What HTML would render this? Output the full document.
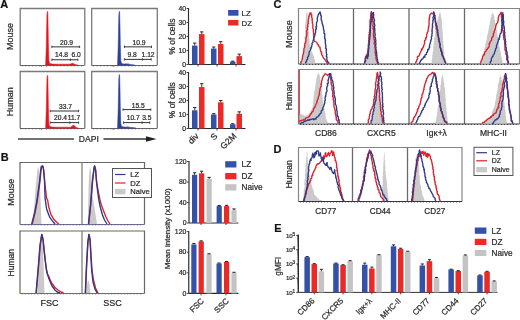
<!DOCTYPE html><html><head><meta charset="utf-8"><title>Figure</title><style>html,body{margin:0;padding:0;background:#fff;overflow:hidden}svg{display:block;font-family:"Liberation Sans",sans-serif;will-change:transform}text{stroke:#2a2a2a;stroke-width:0.22px}</style></head><body>
<svg width="520" height="320" viewBox="0 0 520 320">
<rect width="520" height="320" fill="#fff"/>
<text x="0.3" y="8.2" font-size="11" text-anchor="start" fill="#111" font-weight="bold">A</text>
<text x="0.8" y="160.6" font-size="11" text-anchor="start" fill="#111" font-weight="bold">B</text>
<text x="273.6" y="8.2" font-size="11" text-anchor="start" fill="#111" font-weight="bold">C</text>
<text x="273.6" y="152.6" font-size="11" text-anchor="start" fill="#111" font-weight="bold">D</text>
<text x="274.3" y="232.2" font-size="11" text-anchor="start" fill="#111" font-weight="bold">E</text>
<text x="13.4" y="36.6" font-size="9.0" text-anchor="middle" fill="#2a2a2a" transform="rotate(-90 13.4 36.6)">Mouse</text>
<text x="13.4" y="101.75" font-size="9.0" text-anchor="middle" fill="#2a2a2a" transform="rotate(-90 13.4 101.75)">Human</text>
<path d="M20.2,65.5 V8.5 H84.8 V65.5" fill="none" stroke="#7a7a7a" stroke-width="1.3"/>
<line x1="20" y1="65.5" x2="84.5" y2="65.5" stroke="#555" stroke-width="0.9"/>
<path d="M22.0,65.5 v0.9 M25.5,65.5 v0.9 M29.0,65.5 v0.9 M32.5,65.5 v0.9 M36.0,65.5 v0.9 M39.5,65.5 v0.9 M43.0,65.5 v0.9 M46.5,65.5 v0.9 M50.0,65.5 v0.9 M53.5,65.5 v0.9 M57.0,65.5 v0.9 M60.5,65.5 v0.9 M64.0,65.5 v0.9 M67.5,65.5 v0.9 M71.0,65.5 v0.9 M74.5,65.5 v0.9 M78.0,65.5 v0.9 M81.5,65.5 v0.9" stroke="#555" stroke-width="0.8" fill="none"/>
<line x1="41.285" y1="65.5" x2="41.285" y2="67.1" stroke="#555" stroke-width="0.8"/>
<path d="M45.6,65.5 L46.3,45.5 L46.9,15.5 L47.3,11.5 L47.8,11.5 L48.1,25.5 L48.4,43.5 L48.9,60.5 L49.7,63.5 L52.4,64.0 L57.4,64.2 L69.7,64.2 L72.7,63.2 L75.2,64.4 L78.0,65.1 L78.0,65.5 Z" fill="#e3141c" stroke="none"/>
<path d="M45.6,65.5 L46.3,45.5 L46.9,15.5 L47.3,11.5 L47.8,11.5 L48.1,25.5 L48.4,43.5 L48.9,60.5 L49.7,63.5 L52.4,64.0 L57.4,64.2 L69.7,64.2 L72.7,63.2 L75.2,64.4 L78.0,65.1" fill="none" stroke="#e3141c" stroke-width="0.5" stroke-linejoin="round"/>
<line x1="51.9" y1="46.85" x2="79.6" y2="46.85" stroke="#333" stroke-width="1.0"/>
<line x1="51.9" y1="45.65" x2="51.9" y2="48.050000000000004" stroke="#333" stroke-width="0.9"/>
<line x1="79.6" y1="45.65" x2="79.6" y2="48.050000000000004" stroke="#333" stroke-width="0.9"/>
<text x="66.5" y="45.1" font-size="6.7" text-anchor="middle" fill="#2a2a2a">20.9</text>
<line x1="51.9" y1="59.75" x2="77.8" y2="59.75" stroke="#333" stroke-width="1.0"/>
<line x1="51.9" y1="58.55" x2="51.9" y2="60.95" stroke="#333" stroke-width="0.9"/>
<line x1="77.8" y1="58.55" x2="77.8" y2="60.95" stroke="#333" stroke-width="0.9"/>
<line x1="70.4" y1="58.55" x2="70.4" y2="60.95" stroke="#333" stroke-width="0.9"/>
<text x="61.6" y="56.8" font-size="6.7" text-anchor="middle" fill="#2a2a2a">14.8</text>
<text x="76.2" y="56.8" font-size="6.7" text-anchor="middle" fill="#2a2a2a">6.0</text>
<path d="M91.7,65.5 V8.5 H157.3 V65.5" fill="none" stroke="#7a7a7a" stroke-width="1.3"/>
<line x1="91.5" y1="65.5" x2="157" y2="65.5" stroke="#555" stroke-width="0.9"/>
<path d="M93.5,65.5 v0.9 M97.0,65.5 v0.9 M100.5,65.5 v0.9 M104.0,65.5 v0.9 M107.5,65.5 v0.9 M111.0,65.5 v0.9 M114.5,65.5 v0.9 M118.0,65.5 v0.9 M121.5,65.5 v0.9 M125.0,65.5 v0.9 M128.5,65.5 v0.9 M132.0,65.5 v0.9 M135.5,65.5 v0.9 M139.0,65.5 v0.9 M142.5,65.5 v0.9 M146.0,65.5 v0.9 M149.5,65.5 v0.9 M153.0,65.5 v0.9" stroke="#555" stroke-width="0.8" fill="none"/>
<line x1="113.11500000000001" y1="65.5" x2="113.11500000000001" y2="67.1" stroke="#555" stroke-width="0.8"/>
<path d="M117.5,65.5 L118.2,45.5 L118.8,15.5 L119.2,11.5 L119.6,11.5 L120.0,25.5 L120.3,43.5 L120.8,60.5 L121.6,63.5 L124.3,64.0 L129.3,64.2 L125.0,64.2 L128.0,64.3 L130.5,64.4 L135.0,65.1 L135.0,65.5 Z" fill="#2e3f98" stroke="none"/>
<path d="M117.5,65.5 L118.2,45.5 L118.8,15.5 L119.2,11.5 L119.6,11.5 L120.0,25.5 L120.3,43.5 L120.8,60.5 L121.6,63.5 L124.3,64.0 L129.3,64.2 L125.0,64.2 L128.0,64.3 L130.5,64.4 L135.0,65.1" fill="none" stroke="#2e3f98" stroke-width="0.5" stroke-linejoin="round"/>
<line x1="124.5" y1="46.85" x2="151.5" y2="46.85" stroke="#333" stroke-width="1.0"/>
<line x1="124.5" y1="45.65" x2="124.5" y2="48.050000000000004" stroke="#333" stroke-width="0.9"/>
<line x1="151.5" y1="45.65" x2="151.5" y2="48.050000000000004" stroke="#333" stroke-width="0.9"/>
<text x="139" y="45.1" font-size="6.7" text-anchor="middle" fill="#2a2a2a">10.9</text>
<line x1="124.3" y1="59.4" x2="151.2" y2="59.4" stroke="#333" stroke-width="1.0"/>
<line x1="124.3" y1="58.199999999999996" x2="124.3" y2="60.6" stroke="#333" stroke-width="0.9"/>
<line x1="151.2" y1="58.199999999999996" x2="151.2" y2="60.6" stroke="#333" stroke-width="0.9"/>
<line x1="142.4" y1="58.199999999999996" x2="142.4" y2="60.6" stroke="#333" stroke-width="0.9"/>
<text x="132.1" y="57.4" font-size="6.7" text-anchor="middle" fill="#2a2a2a">9.8</text>
<text x="148.1" y="57.4" font-size="6.7" text-anchor="middle" fill="#2a2a2a">1.12</text>
<path d="M20.2,128.5 V71.5 H84.8 V128.5" fill="none" stroke="#7a7a7a" stroke-width="1.3"/>
<line x1="20" y1="128.5" x2="84.5" y2="128.5" stroke="#555" stroke-width="0.9"/>
<path d="M22.0,128.5 v0.9 M25.5,128.5 v0.9 M29.0,128.5 v0.9 M32.5,128.5 v0.9 M36.0,128.5 v0.9 M39.5,128.5 v0.9 M43.0,128.5 v0.9 M46.5,128.5 v0.9 M50.0,128.5 v0.9 M53.5,128.5 v0.9 M57.0,128.5 v0.9 M60.5,128.5 v0.9 M64.0,128.5 v0.9 M67.5,128.5 v0.9 M71.0,128.5 v0.9 M74.5,128.5 v0.9 M78.0,128.5 v0.9 M81.5,128.5 v0.9" stroke="#555" stroke-width="0.8" fill="none"/>
<line x1="41.285" y1="128.5" x2="41.285" y2="130.1" stroke="#555" stroke-width="0.8"/>
<path d="M45.6,128.5 L46.3,108.5 L46.9,79.5 L47.3,75.5 L47.8,75.5 L48.1,89.5 L48.4,106.5 L48.9,123.5 L49.7,126.5 L52.4,127.0 L57.4,127.2 L70.6,127.2 L73.6,125.0 L76.1,127.4 L78.5,128.1 L78.5,128.5 Z" fill="#e3141c" stroke="none"/>
<path d="M45.6,128.5 L46.3,108.5 L46.9,79.5 L47.3,75.5 L47.8,75.5 L48.1,89.5 L48.4,106.5 L48.9,123.5 L49.7,126.5 L52.4,127.0 L57.4,127.2 L70.6,127.2 L73.6,125.0 L76.1,127.4 L78.5,128.1" fill="none" stroke="#e3141c" stroke-width="0.5" stroke-linejoin="round"/>
<line x1="50.2" y1="111.0" x2="78.6" y2="111.0" stroke="#333" stroke-width="1.0"/>
<line x1="50.2" y1="109.8" x2="50.2" y2="112.2" stroke="#333" stroke-width="0.9"/>
<line x1="78.6" y1="109.8" x2="78.6" y2="112.2" stroke="#333" stroke-width="0.9"/>
<text x="65.5" y="108.6" font-size="6.7" text-anchor="middle" fill="#2a2a2a">33.7</text>
<line x1="50.2" y1="122.6" x2="78.6" y2="122.6" stroke="#333" stroke-width="1.0"/>
<line x1="50.2" y1="121.39999999999999" x2="50.2" y2="123.8" stroke="#333" stroke-width="0.9"/>
<line x1="78.6" y1="121.39999999999999" x2="78.6" y2="123.8" stroke="#333" stroke-width="0.9"/>
<line x1="69.8" y1="121.39999999999999" x2="69.8" y2="123.8" stroke="#333" stroke-width="0.9"/>
<text x="60.6" y="119.9" font-size="6.7" text-anchor="middle" fill="#2a2a2a">20.4</text>
<text x="74.0" y="119.9" font-size="6.7" text-anchor="middle" fill="#2a2a2a">11.7</text>
<path d="M91.7,128.5 V71.5 H157.3 V128.5" fill="none" stroke="#7a7a7a" stroke-width="1.3"/>
<line x1="91.5" y1="128.5" x2="157" y2="128.5" stroke="#555" stroke-width="0.9"/>
<path d="M93.5,128.5 v0.9 M97.0,128.5 v0.9 M100.5,128.5 v0.9 M104.0,128.5 v0.9 M107.5,128.5 v0.9 M111.0,128.5 v0.9 M114.5,128.5 v0.9 M118.0,128.5 v0.9 M121.5,128.5 v0.9 M125.0,128.5 v0.9 M128.5,128.5 v0.9 M132.0,128.5 v0.9 M135.5,128.5 v0.9 M139.0,128.5 v0.9 M142.5,128.5 v0.9 M146.0,128.5 v0.9 M149.5,128.5 v0.9 M153.0,128.5 v0.9" stroke="#555" stroke-width="0.8" fill="none"/>
<line x1="113.11500000000001" y1="128.5" x2="113.11500000000001" y2="130.1" stroke="#555" stroke-width="0.8"/>
<path d="M117.5,128.5 L118.2,108.5 L118.8,78.7 L119.2,74.7 L119.6,74.7 L120.0,88.7 L120.3,106.5 L120.8,123.5 L121.6,126.5 L124.3,127.0 L129.3,127.2 L127.0,127.2 L130.0,127.5 L132.5,127.4 L136.0,128.1 L136.0,128.5 Z" fill="#2e3f98" stroke="none"/>
<path d="M117.5,128.5 L118.2,108.5 L118.8,78.7 L119.2,74.7 L119.6,74.7 L120.0,88.7 L120.3,106.5 L120.8,123.5 L121.6,126.5 L124.3,127.0 L129.3,127.2 L127.0,127.2 L130.0,127.5 L132.5,127.4 L136.0,128.1" fill="none" stroke="#2e3f98" stroke-width="0.5" stroke-linejoin="round"/>
<line x1="123" y1="109.6" x2="150.8" y2="109.6" stroke="#333" stroke-width="1.0"/>
<line x1="123" y1="108.39999999999999" x2="123" y2="110.8" stroke="#333" stroke-width="0.9"/>
<line x1="150.8" y1="108.39999999999999" x2="150.8" y2="110.8" stroke="#333" stroke-width="0.9"/>
<text x="138.2" y="108.0" font-size="6.7" text-anchor="middle" fill="#2a2a2a">15.5</text>
<line x1="123.6" y1="122.6" x2="149.8" y2="122.6" stroke="#333" stroke-width="1.0"/>
<line x1="123.6" y1="121.39999999999999" x2="123.6" y2="123.8" stroke="#333" stroke-width="0.9"/>
<line x1="149.8" y1="121.39999999999999" x2="149.8" y2="123.8" stroke="#333" stroke-width="0.9"/>
<line x1="142.1" y1="121.39999999999999" x2="142.1" y2="123.8" stroke="#333" stroke-width="0.9"/>
<text x="133.2" y="120.4" font-size="6.7" text-anchor="middle" fill="#2a2a2a">10.7</text>
<text x="146.8" y="120.4" font-size="6.7" text-anchor="middle" fill="#2a2a2a">3.5</text>
<line x1="18" y1="139" x2="74" y2="139" stroke="#444" stroke-width="1.4"/>
<text x="78.8" y="142.2" font-size="8.6" text-anchor="start" fill="#2a2a2a">DAPI</text>
<line x1="103.5" y1="139" x2="149" y2="139" stroke="#333" stroke-width="1.4"/>
<path d="M146,136.3 L156.5,139 L146,141.7 Z" fill="#222"/>
<line x1="188.5" y1="8.0" x2="188.5" y2="64.5" stroke="#2a2a2a" stroke-width="1.15"/>
<line x1="188.5" y1="64.5" x2="245.5" y2="64.5" stroke="#2a2a2a" stroke-width="1.15"/>
<line x1="186.5" y1="64.5" x2="188.5" y2="64.5" stroke="#333" stroke-width="0.9"/>
<text x="186.1" y="66.6" font-size="6.9" text-anchor="end" fill="#2a2a2a">0</text>
<line x1="186.5" y1="50.5" x2="188.5" y2="50.5" stroke="#333" stroke-width="0.9"/>
<text x="186.1" y="52.6" font-size="6.9" text-anchor="end" fill="#2a2a2a">10</text>
<line x1="186.5" y1="36.5" x2="188.5" y2="36.5" stroke="#333" stroke-width="0.9"/>
<text x="186.1" y="38.6" font-size="6.9" text-anchor="end" fill="#2a2a2a">20</text>
<line x1="186.5" y1="22.5" x2="188.5" y2="22.5" stroke="#333" stroke-width="0.9"/>
<text x="186.1" y="24.6" font-size="6.9" text-anchor="end" fill="#2a2a2a">30</text>
<line x1="186.5" y1="8.5" x2="188.5" y2="8.5" stroke="#333" stroke-width="0.9"/>
<text x="186.1" y="10.6" font-size="6.9" text-anchor="end" fill="#2a2a2a">40</text>
<line x1="198" y1="64.5" x2="198" y2="66.5" stroke="#333" stroke-width="0.9"/>
<line x1="217" y1="64.5" x2="217" y2="66.5" stroke="#333" stroke-width="0.9"/>
<line x1="236" y1="64.5" x2="236" y2="66.5" stroke="#333" stroke-width="0.9"/>
<rect x="192" y="45.6" width="5.5" height="18.9" fill="#3451a8"/>
<line x1="194.75" y1="45.6" x2="194.75" y2="43.08" stroke="#222" stroke-width="0.9"/>
<line x1="193.15" y1="43.08" x2="196.35" y2="43.08" stroke="#222" stroke-width="1.0"/>
<rect x="199" y="34.120000000000005" width="5.5" height="30.379999999999995" fill="#ec2a25"/>
<line x1="201.75" y1="34.120000000000005" x2="201.75" y2="31.880000000000003" stroke="#222" stroke-width="0.9"/>
<line x1="200.15" y1="31.880000000000003" x2="203.35" y2="31.880000000000003" stroke="#222" stroke-width="1.0"/>
<rect x="211" y="48.54" width="5.5" height="15.96" fill="#3451a8"/>
<line x1="213.75" y1="48.54" x2="213.75" y2="47.0" stroke="#222" stroke-width="0.9"/>
<line x1="212.15" y1="47.0" x2="215.35" y2="47.0" stroke="#222" stroke-width="1.0"/>
<rect x="218" y="44.06" width="5.5" height="20.439999999999998" fill="#ec2a25"/>
<line x1="220.75" y1="44.06" x2="220.75" y2="41.68" stroke="#222" stroke-width="0.9"/>
<line x1="219.15" y1="41.68" x2="222.35" y2="41.68" stroke="#222" stroke-width="1.0"/>
<rect x="230" y="61.7" width="5.5" height="2.799999999999997" fill="#3451a8"/>
<line x1="232.75" y1="61.7" x2="232.75" y2="61.14" stroke="#222" stroke-width="0.9"/>
<line x1="231.15" y1="61.14" x2="234.35" y2="61.14" stroke="#222" stroke-width="1.0"/>
<rect x="236.5" y="56.1" width="5.5" height="8.399999999999999" fill="#ec2a25"/>
<line x1="239.25" y1="56.1" x2="239.25" y2="54.14" stroke="#222" stroke-width="0.9"/>
<line x1="237.65" y1="54.14" x2="240.85" y2="54.14" stroke="#222" stroke-width="1.0"/>
<rect x="228.1" y="10" width="10.4" height="5.7" fill="#3451a8"/>
<rect x="228.1" y="20" width="10.4" height="5.5" fill="#ec2a25"/>
<text x="241.6" y="15.6" font-size="7.8" text-anchor="start" fill="#2a2a2a">LZ</text>
<text x="241.6" y="25.6" font-size="7.8" text-anchor="start" fill="#2a2a2a">DZ</text>
<text x="175.1" y="36.5" font-size="8.4" text-anchor="middle" fill="#2a2a2a" transform="rotate(-90 175.1 36.5)">% of cells</text>
<line x1="188.5" y1="72.0" x2="188.5" y2="128.5" stroke="#2a2a2a" stroke-width="1.15"/>
<line x1="188.5" y1="128.5" x2="245.5" y2="128.5" stroke="#2a2a2a" stroke-width="1.15"/>
<line x1="186.5" y1="128.5" x2="188.5" y2="128.5" stroke="#333" stroke-width="0.9"/>
<text x="186.1" y="130.6" font-size="6.9" text-anchor="end" fill="#2a2a2a">0</text>
<line x1="186.5" y1="114.5" x2="188.5" y2="114.5" stroke="#333" stroke-width="0.9"/>
<text x="186.1" y="116.6" font-size="6.9" text-anchor="end" fill="#2a2a2a">10</text>
<line x1="186.5" y1="100.5" x2="188.5" y2="100.5" stroke="#333" stroke-width="0.9"/>
<text x="186.1" y="102.6" font-size="6.9" text-anchor="end" fill="#2a2a2a">20</text>
<line x1="186.5" y1="86.5" x2="188.5" y2="86.5" stroke="#333" stroke-width="0.9"/>
<text x="186.1" y="88.6" font-size="6.9" text-anchor="end" fill="#2a2a2a">30</text>
<line x1="186.5" y1="72.5" x2="188.5" y2="72.5" stroke="#333" stroke-width="0.9"/>
<text x="186.1" y="74.6" font-size="6.9" text-anchor="end" fill="#2a2a2a">40</text>
<line x1="198" y1="128.5" x2="198" y2="130.5" stroke="#333" stroke-width="0.9"/>
<line x1="217" y1="128.5" x2="217" y2="130.5" stroke="#333" stroke-width="0.9"/>
<line x1="236" y1="128.5" x2="236" y2="130.5" stroke="#333" stroke-width="0.9"/>
<rect x="192" y="110.3" width="5.5" height="18.200000000000003" fill="#3451a8"/>
<line x1="194.75" y1="110.3" x2="194.75" y2="107.5" stroke="#222" stroke-width="0.9"/>
<line x1="193.15" y1="107.5" x2="196.35" y2="107.5" stroke="#222" stroke-width="1.0"/>
<rect x="199" y="87.06" width="5.5" height="41.44" fill="#ec2a25"/>
<line x1="201.75" y1="87.06" x2="201.75" y2="83.7" stroke="#222" stroke-width="0.9"/>
<line x1="200.15" y1="83.7" x2="203.35" y2="83.7" stroke="#222" stroke-width="1.0"/>
<rect x="211" y="114.5" width="5.5" height="14.0" fill="#3451a8"/>
<line x1="213.75" y1="114.5" x2="213.75" y2="113.66" stroke="#222" stroke-width="0.9"/>
<line x1="212.15" y1="113.66" x2="215.35" y2="113.66" stroke="#222" stroke-width="1.0"/>
<rect x="218" y="102.32000000000001" width="5.5" height="26.179999999999993" fill="#ec2a25"/>
<line x1="220.75" y1="102.32000000000001" x2="220.75" y2="100.5" stroke="#222" stroke-width="0.9"/>
<line x1="219.15" y1="100.5" x2="222.35" y2="100.5" stroke="#222" stroke-width="1.0"/>
<rect x="230" y="124.3" width="5.5" height="4.200000000000003" fill="#3451a8"/>
<line x1="232.75" y1="124.3" x2="232.75" y2="123.74" stroke="#222" stroke-width="0.9"/>
<line x1="231.15" y1="123.74" x2="234.35" y2="123.74" stroke="#222" stroke-width="1.0"/>
<rect x="236.5" y="113.8" width="5.5" height="14.700000000000003" fill="#ec2a25"/>
<line x1="239.25" y1="113.8" x2="239.25" y2="111.84" stroke="#222" stroke-width="0.9"/>
<line x1="237.65" y1="111.84" x2="240.85" y2="111.84" stroke="#222" stroke-width="1.0"/>
<text x="175.1" y="100.2" font-size="8.4" text-anchor="middle" fill="#2a2a2a" transform="rotate(-90 175.1 100.2)">% of cells</text>
<text x="199.2" y="136.6" font-size="8.6" text-anchor="end" fill="#2a2a2a" transform="rotate(-45 199.2 136.6)">div</text>
<text x="218" y="136.6" font-size="8.6" text-anchor="end" fill="#2a2a2a" transform="rotate(-45 218 136.6)">S</text>
<text x="237" y="136.6" font-size="8.6" text-anchor="end" fill="#2a2a2a" transform="rotate(-45 237 136.6)">G2M</text>
<text x="14.0" y="192.2" font-size="9.0" text-anchor="middle" fill="#2a2a2a" transform="rotate(-90 14.0 192.2)">Mouse</text>
<text x="14.0" y="262.7" font-size="8.6" text-anchor="middle" fill="#2a2a2a" transform="rotate(-90 14.0 262.7)">Human</text>
<path d="M20,224.5 V162.5 H144.5 V224.5" fill="none" stroke="#666" stroke-width="1.2"/>
<line x1="82" y1="162.5" x2="82" y2="224.5" stroke="#808080" stroke-width="1.3"/>
<line x1="20" y1="224.5" x2="144.5" y2="224.5" stroke="#5a5a8a" stroke-width="0.9"/>
<path d="M22.0,224.5 v1.0 M25.2,224.5 v1.0 M28.4,224.5 v1.0 M31.6,224.5 v1.0 M34.8,224.5 v1.0 M38.0,224.5 v1.0 M41.2,224.5 v1.0 M44.4,224.5 v1.0 M47.6,224.5 v1.0 M50.8,224.5 v1.0 M54.0,224.5 v1.0 M57.2,224.5 v1.0 M60.4,224.5 v1.0 M63.6,224.5 v1.0 M66.8,224.5 v1.0 M70.0,224.5 v1.0 M73.2,224.5 v1.0 M76.4,224.5 v1.0 M79.6,224.5 v1.0 M82.8,224.5 v1.0 M86.0,224.5 v1.0 M89.2,224.5 v1.0 M92.4,224.5 v1.0 M95.6,224.5 v1.0 M98.8,224.5 v1.0 M102.0,224.5 v1.0 M105.2,224.5 v1.0 M108.4,224.5 v1.0 M111.6,224.5 v1.0 M114.8,224.5 v1.0 M118.0,224.5 v1.0 M121.2,224.5 v1.0 M124.4,224.5 v1.0 M127.6,224.5 v1.0 M130.8,224.5 v1.0 M134.0,224.5 v1.0 M137.2,224.5 v1.0 M140.4,224.5 v1.0" stroke="#5560a0" stroke-width="0.8" fill="none"/>
<path d="M32.6,224.0 L34.3,205.0 L35.8,185.0 L37.2,172.0 L38.1,166.4 L39.0,170.0 L40.0,185.0 L41.5,224.0 Z" fill="#cacaca" stroke="none"/>
<path d="M32.2,224.0 L35.0,213.0 L37.0,202.6 L38.5,191.9 L40.0,181.3 L41.0,170.6 L41.7,166.4 L42.9,166.2 L43.8,170.6 L45.1,185.5 L46.6,198.3 L47.7,200.4 L48.7,206.8 L50.9,214.3 L54.0,219.6 L57.2,222.8 L59.0,224.0" fill="none" stroke="#dc202c" stroke-width="1.35" stroke-linejoin="round"/>
<path d="M31.7,224.0 L34.5,213.2 L36.6,202.6 L38.1,191.9 L39.6,181.3 L40.6,170.6 L41.3,166.4 L42.5,166.0 L43.4,168.5 L44.5,181.3 L45.1,198.3 L46.6,209.0 L49.8,217.4 L53.0,221.7 L55.1,224.0" fill="none" stroke="#2c3a88" stroke-width="1.35" stroke-linejoin="round"/>
<path d="M87.8,224.0 L88.6,185.0 L89.3,172.0 L90.0,166.4 L91.0,172.0 L92.5,195.0 L97.0,224.0 Z" fill="#cacaca" stroke="none"/>
<path d="M88.7,224.0 L90.7,205.0 L92.7,180.0 L94.2,168.0 L94.7,166.0 L95.7,170.0 L96.7,182.0 L98.5,193.0 L100.0,200.0 L101.3,205.0 L102.5,208.0 L104.0,212.0 L106.0,217.0 L108.0,221.0 L110.0,224.0" fill="none" stroke="#dc202c" stroke-width="1.35" stroke-linejoin="round"/>
<path d="M88.5,224.0 L90.5,205.0 L92.5,180.0 L94.0,168.0 L94.5,166.0 L95.5,170.0 L96.5,182.0 L97.8,193.0 L99.0,201.0 L100.5,208.0 L102.5,215.0 L104.5,220.0 L107.0,224.0" fill="none" stroke="#2c3a88" stroke-width="1.35" stroke-linejoin="round"/>
<rect x="112.5" y="168.5" width="39" height="29" fill="#fff" stroke="#555" stroke-width="1"/>
<line x1="115" y1="174.5" x2="125.5" y2="174.5" stroke="#2c3a88" stroke-width="1.2"/>
<text x="130.3" y="177.2" font-size="7.6" text-anchor="start" fill="#2a2a2a">LZ</text>
<line x1="115" y1="183" x2="125.5" y2="183" stroke="#dc202c" stroke-width="1.2"/>
<text x="130.3" y="185.7" font-size="7.6" text-anchor="start" fill="#2a2a2a">DZ</text>
<rect x="115" y="188.8" width="10.5" height="5.5" fill="#cacaca"/>
<text x="130.3" y="194.4" font-size="7.6" text-anchor="start" fill="#2a2a2a">Naive</text>
<path d="M20,293.5 V231 H144.5 V293.5" fill="none" stroke="#666" stroke-width="1.2"/>
<line x1="82" y1="231" x2="82" y2="293.5" stroke="#808080" stroke-width="1.3"/>
<line x1="20" y1="293.5" x2="144.5" y2="293.5" stroke="#5a5a8a" stroke-width="0.9"/>
<path d="M22.0,293.5 v1.0 M25.2,293.5 v1.0 M28.4,293.5 v1.0 M31.6,293.5 v1.0 M34.8,293.5 v1.0 M38.0,293.5 v1.0 M41.2,293.5 v1.0 M44.4,293.5 v1.0 M47.6,293.5 v1.0 M50.8,293.5 v1.0 M54.0,293.5 v1.0 M57.2,293.5 v1.0 M60.4,293.5 v1.0 M63.6,293.5 v1.0 M66.8,293.5 v1.0 M70.0,293.5 v1.0 M73.2,293.5 v1.0 M76.4,293.5 v1.0 M79.6,293.5 v1.0 M82.8,293.5 v1.0 M86.0,293.5 v1.0 M89.2,293.5 v1.0 M92.4,293.5 v1.0 M95.6,293.5 v1.0 M98.8,293.5 v1.0 M102.0,293.5 v1.0 M105.2,293.5 v1.0 M108.4,293.5 v1.0 M111.6,293.5 v1.0 M114.8,293.5 v1.0 M118.0,293.5 v1.0 M121.2,293.5 v1.0 M124.4,293.5 v1.0 M127.6,293.5 v1.0 M130.8,293.5 v1.0 M134.0,293.5 v1.0 M137.2,293.5 v1.0 M140.4,293.5 v1.0" stroke="#5560a0" stroke-width="0.8" fill="none"/>
<path d="M37.4,293.0 L40.0,245.0 L41.5,235.5 L42.8,245.0 L44.5,293.0 Z" fill="#cacaca" stroke="none"/>
<path d="M36.3,293.0 L38.3,270.0 L40.3,245.0 L41.9,234.4 L43.2,240.0 L44.2,250.0 L45.3,260.0 L46.6,271.0 L47.5,274.5 L48.8,276.2 L50.0,279.5 L52.0,283.5 L55.0,287.5 L58.0,290.0 L61.0,292.0 L63.6,293.0" fill="none" stroke="#dc202c" stroke-width="1.35" stroke-linejoin="round"/>
<path d="M36.0,293.0 L38.0,270.0 L40.0,245.0 L41.7,234.4 L43.0,240.0 L44.0,250.0 L45.1,260.0 L46.5,270.0 L48.0,276.0 L49.8,281.0 L52.0,286.0 L55.0,290.0 L57.2,292.0 L60.0,293.0" fill="none" stroke="#2c3a88" stroke-width="1.35" stroke-linejoin="round"/>
<path d="M86.0,293.0 L87.5,282.0 L88.5,280.0 L89.5,284.0 L90.5,293.0 Z" fill="#cacaca" stroke="none"/>
<path d="M85.5,293.0 L86.7,265.0 L88.0,242.0 L89.1,234.4 L90.2,240.0 L91.0,255.0 L92.0,270.0 L93.5,280.0 L95.5,288.0 L98.0,293.0" fill="none" stroke="#dc202c" stroke-width="1.35" stroke-linejoin="round"/>
<path d="M85.3,293.0 L86.5,265.0 L87.8,242.0 L88.9,234.4 L90.0,240.0 L90.8,255.0 L91.7,270.5 L93.0,282.0 L95.0,289.0 L97.0,293.0" fill="none" stroke="#2c3a88" stroke-width="1.35" stroke-linejoin="round"/>
<text x="49.5" y="306.3" font-size="9.0" text-anchor="middle" fill="#2a2a2a">FSC</text>
<text x="112.5" y="306.3" font-size="9.0" text-anchor="middle" fill="#2a2a2a">SSC</text>
<line x1="189" y1="161.0" x2="189" y2="223" stroke="#2a2a2a" stroke-width="1.15"/>
<line x1="189" y1="223" x2="238.4" y2="223" stroke="#2a2a2a" stroke-width="1.15"/>
<line x1="187" y1="223.0" x2="189" y2="223.0" stroke="#333" stroke-width="0.9"/>
<text x="186.6" y="225.1" font-size="6.9" text-anchor="end" fill="#2a2a2a">0</text>
<line x1="187" y1="202.5" x2="189" y2="202.5" stroke="#333" stroke-width="0.9"/>
<text x="186.6" y="204.6" font-size="6.9" text-anchor="end" fill="#2a2a2a">40</text>
<line x1="187" y1="182.0" x2="189" y2="182.0" stroke="#333" stroke-width="0.9"/>
<text x="186.6" y="184.1" font-size="6.9" text-anchor="end" fill="#2a2a2a">80</text>
<line x1="187" y1="161.5" x2="189" y2="161.5" stroke="#333" stroke-width="0.9"/>
<text x="186.6" y="163.6" font-size="6.9" text-anchor="end" fill="#2a2a2a">120</text>
<line x1="201" y1="223" x2="201" y2="225" stroke="#333" stroke-width="0.9"/>
<line x1="226" y1="223" x2="226" y2="225" stroke="#333" stroke-width="0.9"/>
<rect x="192" y="174.825" width="5.2" height="48.17500000000001" fill="#3451a8"/>
<line x1="194.6" y1="174.825" x2="194.6" y2="172.775" stroke="#222" stroke-width="0.9"/>
<line x1="193.0" y1="172.775" x2="196.2" y2="172.775" stroke="#222" stroke-width="1.0"/>
<rect x="199" y="173.2875" width="5.2" height="49.712500000000006" fill="#ec2a25"/>
<line x1="201.6" y1="173.2875" x2="201.6" y2="171.2375" stroke="#222" stroke-width="0.9"/>
<line x1="200.0" y1="171.2375" x2="203.2" y2="171.2375" stroke="#222" stroke-width="1.0"/>
<rect x="206.5" y="178.925" width="5.2" height="44.07499999999999" fill="#c3c3c3"/>
<line x1="209.1" y1="178.925" x2="209.1" y2="177.3875" stroke="#222" stroke-width="0.9"/>
<line x1="207.5" y1="177.3875" x2="210.7" y2="177.3875" stroke="#222" stroke-width="1.0"/>
<rect x="216.6" y="206.0875" width="5.2" height="16.912499999999994" fill="#3451a8"/>
<line x1="219.2" y1="206.0875" x2="219.2" y2="205.575" stroke="#222" stroke-width="0.9"/>
<line x1="217.6" y1="205.575" x2="220.79999999999998" y2="205.575" stroke="#222" stroke-width="1.0"/>
<rect x="224" y="206.0875" width="5.2" height="16.912499999999994" fill="#ec2a25"/>
<line x1="226.6" y1="206.0875" x2="226.6" y2="205.31875" stroke="#222" stroke-width="0.9"/>
<line x1="225.0" y1="205.31875" x2="228.2" y2="205.31875" stroke="#222" stroke-width="1.0"/>
<rect x="231.4" y="210.1875" width="5.2" height="12.8125" fill="#c3c3c3"/>
<line x1="234.0" y1="210.1875" x2="234.0" y2="208.90625" stroke="#222" stroke-width="0.9"/>
<line x1="232.4" y1="208.90625" x2="235.6" y2="208.90625" stroke="#222" stroke-width="1.0"/>
<rect x="225.2" y="161.2" width="11.2" height="6.3" fill="#3451a8"/>
<text x="241.6" y="167.4" font-size="8.2" text-anchor="start" fill="#2a2a2a">LZ</text>
<rect x="225.2" y="173" width="11.2" height="6.3" fill="#ec2a25"/>
<text x="241.6" y="179.2" font-size="8.2" text-anchor="start" fill="#2a2a2a">DZ</text>
<rect x="225.2" y="184.2" width="11.2" height="6.3" fill="#c3c3c3"/>
<text x="241.6" y="190.4" font-size="8.2" text-anchor="start" fill="#2a2a2a">Naive</text>
<line x1="188.75" y1="231.1" x2="188.75" y2="293.4" stroke="#2a2a2a" stroke-width="1.15"/>
<line x1="188.75" y1="293.4" x2="238.4" y2="293.4" stroke="#2a2a2a" stroke-width="1.15"/>
<line x1="186.75" y1="293.4" x2="188.75" y2="293.4" stroke="#333" stroke-width="0.9"/>
<text x="186.35" y="295.5" font-size="6.9" text-anchor="end" fill="#2a2a2a">0</text>
<line x1="186.75" y1="272.8" x2="188.75" y2="272.8" stroke="#333" stroke-width="0.9"/>
<text x="186.35" y="274.90000000000003" font-size="6.9" text-anchor="end" fill="#2a2a2a">40</text>
<line x1="186.75" y1="252.2" x2="188.75" y2="252.2" stroke="#333" stroke-width="0.9"/>
<text x="186.35" y="254.29999999999998" font-size="6.9" text-anchor="end" fill="#2a2a2a">80</text>
<line x1="186.75" y1="231.6" x2="188.75" y2="231.6" stroke="#333" stroke-width="0.9"/>
<text x="186.35" y="233.7" font-size="6.9" text-anchor="end" fill="#2a2a2a">120</text>
<line x1="201" y1="293.4" x2="201" y2="295.4" stroke="#333" stroke-width="0.9"/>
<line x1="226" y1="293.4" x2="226" y2="295.4" stroke="#333" stroke-width="0.9"/>
<rect x="191.3" y="244.47499999999997" width="5.2" height="48.92500000000001" fill="#3451a8"/>
<line x1="193.9" y1="244.47499999999997" x2="193.9" y2="243.445" stroke="#222" stroke-width="0.9"/>
<line x1="192.3" y1="243.445" x2="195.5" y2="243.445" stroke="#222" stroke-width="1.0"/>
<rect x="198.6" y="241.385" width="5.2" height="52.014999999999986" fill="#ec2a25"/>
<line x1="201.2" y1="241.385" x2="201.2" y2="240.86999999999998" stroke="#222" stroke-width="0.9"/>
<line x1="199.6" y1="240.86999999999998" x2="202.79999999999998" y2="240.86999999999998" stroke="#222" stroke-width="1.0"/>
<rect x="206.4" y="254.26" width="5.2" height="39.139999999999986" fill="#c3c3c3"/>
<line x1="209.0" y1="254.26" x2="209.0" y2="253.74499999999998" stroke="#222" stroke-width="0.9"/>
<line x1="207.4" y1="253.74499999999998" x2="210.6" y2="253.74499999999998" stroke="#222" stroke-width="1.0"/>
<rect x="216.5" y="263.53" width="5.2" height="29.870000000000005" fill="#3451a8"/>
<line x1="219.1" y1="263.53" x2="219.1" y2="263.015" stroke="#222" stroke-width="0.9"/>
<line x1="217.5" y1="263.015" x2="220.7" y2="263.015" stroke="#222" stroke-width="1.0"/>
<rect x="224" y="261.98499999999996" width="5.2" height="31.41500000000002" fill="#ec2a25"/>
<line x1="226.6" y1="261.98499999999996" x2="226.6" y2="261.46999999999997" stroke="#222" stroke-width="0.9"/>
<line x1="225.0" y1="261.46999999999997" x2="228.2" y2="261.46999999999997" stroke="#222" stroke-width="1.0"/>
<rect x="231.4" y="272.79999999999995" width="5.2" height="20.600000000000023" fill="#c3c3c3"/>
<line x1="234.0" y1="272.79999999999995" x2="234.0" y2="272.28499999999997" stroke="#222" stroke-width="0.9"/>
<line x1="232.4" y1="272.28499999999997" x2="235.6" y2="272.28499999999997" stroke="#222" stroke-width="1.0"/>
<text x="170.2" y="228.8" font-size="8.0" text-anchor="middle" fill="#2a2a2a" transform="rotate(-90 170.2 228.8)">Mean intensity (x1000)</text>
<text x="204.5" y="301.5" font-size="8.2" text-anchor="end" fill="#2a2a2a" transform="rotate(-45 204.5 301.5)">FSC</text>
<text x="229.5" y="301.5" font-size="8.2" text-anchor="end" fill="#2a2a2a" transform="rotate(-45 229.5 301.5)">SSC</text>
<text x="291.7" y="34.0" font-size="9.3" text-anchor="middle" fill="#2a2a2a" transform="rotate(-90 291.7 34.0)">Mouse</text>
<text x="292.2" y="96.0" font-size="8.9" text-anchor="middle" fill="#2a2a2a" transform="rotate(-90 292.2 96.0)">Human</text>
<path d="M298.5,64 V8.5 H519.5 V64" fill="none" stroke="#858585" stroke-width="1.2"/>
<line x1="353.5" y1="8.5" x2="353.5" y2="64" stroke="#6a6a6a" stroke-width="1.3"/>
<line x1="409" y1="8.5" x2="409" y2="64" stroke="#6a6a6a" stroke-width="1.3"/>
<line x1="464.5" y1="8.5" x2="464.5" y2="64" stroke="#6a6a6a" stroke-width="1.3"/>
<line x1="298.5" y1="64" x2="519.5" y2="64" stroke="#353545" stroke-width="1.1"/>
<path d="M300.5,64 v1.0 M303.5,64 v1.0 M306.5,64 v1.0 M309.5,64 v1.0 M312.5,64 v1.0 M315.5,64 v1.0 M318.5,64 v1.0 M321.5,64 v1.0 M324.5,64 v1.0 M327.5,64 v1.0 M330.5,64 v1.0 M333.5,64 v1.0 M336.5,64 v1.0 M339.5,64 v1.0 M342.5,64 v1.0 M345.5,64 v1.0 M348.5,64 v1.0 M351.5,64 v1.0 M354.5,64 v1.0 M357.5,64 v1.0 M360.5,64 v1.0 M363.5,64 v1.0 M366.5,64 v1.0 M369.5,64 v1.0 M372.5,64 v1.0 M375.5,64 v1.0 M378.5,64 v1.0 M381.5,64 v1.0 M384.5,64 v1.0 M387.5,64 v1.0 M390.5,64 v1.0 M393.5,64 v1.0 M396.5,64 v1.0 M399.5,64 v1.0 M402.5,64 v1.0 M405.5,64 v1.0 M408.5,64 v1.0 M411.5,64 v1.0 M414.5,64 v1.0 M417.5,64 v1.0 M420.5,64 v1.0 M423.5,64 v1.0 M426.5,64 v1.0 M429.5,64 v1.0 M432.5,64 v1.0 M435.5,64 v1.0 M438.5,64 v1.0 M441.5,64 v1.0 M444.5,64 v1.0 M447.5,64 v1.0 M450.5,64 v1.0 M453.5,64 v1.0 M456.5,64 v1.0 M459.5,64 v1.0 M462.5,64 v1.0 M465.5,64 v1.0 M468.5,64 v1.0 M471.5,64 v1.0 M474.5,64 v1.0 M477.5,64 v1.0 M480.5,64 v1.0 M483.5,64 v1.0 M486.5,64 v1.0 M489.5,64 v1.0 M492.5,64 v1.0 M495.5,64 v1.0 M498.5,64 v1.0 M501.5,64 v1.0 M504.5,64 v1.0 M507.5,64 v1.0 M510.5,64 v1.0 M513.5,64 v1.0 M516.5,64 v1.0" stroke="#333" stroke-width="0.8" fill="none"/>
<path d="M302.6,63.5 L302.6,62.2 L302.9,61.2 L302.9,60.6 L302.7,59.9 L302.7,58.9 L302.8,57.5 L303.1,57.5 L303.0,55.9 L303.4,55.8 L303.5,54.3 L303.8,52.9 L303.8,52.3 L303.5,51.2 L303.6,51.1 L303.6,49.9 L304.0,48.8 L304.0,47.5 L303.8,46.7 L304.2,46.1 L304.1,45.4 L304.2,44.1 L304.4,43.7 L304.2,42.6 L304.4,42.1 L304.6,40.5 L304.8,39.4 L304.5,39.2 L304.4,38.0 L304.4,37.3 L304.9,36.3 L305.0,35.0 L304.9,34.5 L304.9,33.4 L305.1,33.1 L305.0,31.8 L304.8,31.0 L305.2,30.4 L305.3,28.7 L305.1,28.2 L305.0,27.0 L305.1,25.7 L305.1,25.5 L305.2,24.0 L305.5,23.8 L305.3,22.3 L305.7,21.9 L305.9,21.0 L305.7,19.5 L305.8,19.1 L306.2,17.3 L305.8,16.5 L305.9,15.8 L306.2,14.6 L305.9,13.9 L306.4,13.1 L306.9,12.2 L306.9,11.1 L307.2,11.5 L307.5,13.3 L307.6,14.4 L307.5,14.9 L307.4,16.1 L307.5,16.3 L307.6,17.4 L307.8,18.2 L307.6,19.2 L307.7,20.4 L307.8,21.9 L308.2,22.0 L308.0,23.2 L308.2,23.8 L308.5,25.8 L308.4,26.1 L308.2,26.6 L308.4,27.7 L308.8,28.5 L308.3,30.4 L308.7,30.4 L308.8,31.2 L308.9,33.2 L309.1,33.8 L308.8,34.4 L308.8,35.8 L309.1,36.7 L309.1,37.0 L309.4,38.8 L309.5,39.6 L309.6,40.4 L309.3,41.1 L309.4,41.4 L309.4,42.6 L309.7,44.0 L310.3,44.6 L310.4,46.1 L310.6,46.3 L310.3,47.0 L310.5,47.9 L310.9,49.6 L311.2,50.0 L311.5,51.2 L311.6,51.9 L312.5,52.9 L312.8,53.4 L312.9,54.6 L313.4,55.5 L314.2,55.9 L314.0,57.5 L314.4,57.5 L314.3,58.4 L314.9,60.1 L314.7,61.1 L315.4,61.8 L315.2,62.6 L315.5,63.5 Z" fill="#cacaca" stroke="none"/>
<path d="M300.7,63.5 L300.7,61.9 L301.7,61.9 L301.6,61.4 L301.9,60.4 L302.4,58.5 L302.3,57.7 L302.5,57.2 L302.7,56.1 L302.7,55.9 L303.1,54.4 L303.4,54.2 L303.4,53.3 L303.7,51.8 L303.9,50.2 L304.0,49.5 L303.8,49.6 L304.1,48.2 L304.7,47.4 L304.5,46.5 L304.9,46.0 L304.7,44.8 L305.0,43.4 L305.5,42.9 L305.5,42.4 L306.0,40.9 L305.9,40.0 L305.9,39.3 L306.0,38.0 L306.2,37.7 L306.5,36.6 L306.8,34.6 L306.7,34.7 L307.0,32.5 L306.6,31.9 L306.8,30.6 L306.9,30.3 L307.6,29.6 L307.2,28.3 L307.7,26.5 L308.0,26.7 L307.7,25.7 L307.9,24.0 L308.5,23.5 L308.0,21.9 L308.4,20.8 L308.3,19.7 L308.8,18.3 L308.9,17.9 L308.6,16.7 L309.3,16.0 L309.0,15.7 L309.7,14.7 L309.9,12.9 L310.5,12.9 L310.9,12.8 L311.2,14.9 L311.8,14.8 L311.5,16.6 L312.0,17.3 L311.7,17.3 L312.3,18.9 L312.0,20.7 L312.5,21.5 L312.3,22.5 L312.4,23.5 L312.7,23.7 L312.9,25.4 L312.8,25.1 L313.0,26.2 L312.8,27.0 L312.8,28.0 L313.1,29.0 L313.5,29.9 L313.4,30.6 L313.4,31.3 L313.4,32.2 L313.8,34.0 L313.4,34.8 L314.0,35.3 L314.0,36.7 L313.8,38.3 L313.8,38.7 L314.0,40.4 L314.9,41.5 L316.5,42.2 L316.8,42.6 L317.1,43.1 L317.7,44.9 L318.4,44.8 L318.9,46.5 L320.1,47.1 L319.9,47.5 L320.2,48.8 L320.4,49.9 L320.8,51.7 L321.7,52.1 L321.4,53.7 L321.8,53.8 L321.8,54.8 L322.6,55.9 L322.9,56.8 L323.2,57.3 L323.7,58.3 L324.3,58.6 L325.1,59.8 L325.9,61.0 L326.7,62.1 L327.4,63.2 L328.0,63.5" fill="none" stroke="#dc202c" stroke-width="1.35" stroke-linejoin="round"/>
<path d="M305.5,63.5 L305.8,62.3 L306.5,61.1 L306.7,61.0 L306.5,60.3 L307.5,59.1 L307.7,58.5 L307.5,57.2 L308.1,56.8 L308.6,55.9 L308.7,55.2 L309.1,54.0 L309.0,52.2 L309.2,51.8 L309.5,51.6 L310.2,50.5 L310.6,49.7 L310.8,47.8 L311.4,48.0 L311.5,46.9 L311.9,45.2 L312.2,44.5 L311.9,43.6 L312.6,42.5 L312.9,42.7 L313.0,40.8 L313.2,40.3 L313.7,39.2 L313.9,37.4 L313.9,36.6 L314.8,35.7 L315.1,34.3 L314.8,33.7 L315.4,33.3 L315.6,31.7 L315.6,30.9 L315.7,29.4 L316.2,28.5 L316.4,28.7 L315.8,26.9 L316.6,26.8 L316.4,24.9 L316.4,25.0 L316.5,23.5 L316.6,22.5 L317.3,21.0 L317.4,20.7 L317.5,20.1 L317.2,19.5 L317.5,17.3 L317.4,17.0 L318.1,15.7 L318.1,14.8 L318.6,14.5 L318.9,13.6 L320.1,11.9 L320.4,13.7 L320.7,13.9 L320.6,15.0 L321.4,16.1 L321.1,16.9 L321.2,17.3 L321.2,19.5 L321.5,20.7 L321.7,20.6 L322.0,21.5 L322.1,23.7 L322.7,24.5 L322.7,25.6 L323.1,26.1 L323.2,26.3 L323.4,27.9 L323.6,29.2 L323.4,29.3 L324.1,30.4 L324.0,31.8 L324.0,33.4 L324.8,33.6 L324.7,34.7 L324.8,35.8 L324.6,36.5 L324.7,38.6 L325.1,38.6 L325.5,40.7 L325.3,40.5 L325.2,41.4 L325.3,42.3 L325.4,43.5 L325.7,45.4 L325.9,45.7 L325.7,46.8 L325.8,47.5 L325.6,48.3 L326.4,48.9 L326.2,50.6 L326.5,50.9 L326.2,51.8 L326.3,53.0 L326.8,54.5 L326.9,54.3 L326.3,56.3 L327.0,57.0 L326.9,57.3 L326.8,59.6 L327.2,60.5 L327.4,60.6 L327.5,61.3 L328.6,62.9 L329.4,63.5" fill="none" stroke="#2c3a88" stroke-width="1.35" stroke-linejoin="round"/>
<path d="M365.0,63.5 L365.4,62.8 L365.4,62.0 L365.4,60.8 L365.3,60.1 L365.6,59.4 L366.0,57.7 L365.8,56.7 L366.3,56.3 L366.1,54.7 L366.5,54.3 L366.6,53.0 L366.9,51.8 L366.8,51.4 L367.4,50.7 L367.5,49.6 L367.2,48.4 L367.8,48.0 L367.6,46.3 L367.8,46.1 L368.0,44.7 L368.2,44.6 L368.0,42.6 L368.2,42.2 L368.5,41.0 L368.6,40.7 L368.5,39.2 L368.9,38.4 L368.9,37.4 L368.7,37.1 L368.8,36.5 L369.0,34.6 L368.9,34.0 L369.3,33.7 L369.1,32.1 L369.2,31.9 L369.2,29.9 L369.3,29.4 L369.9,29.1 L369.9,28.3 L370.1,26.6 L369.7,26.4 L370.1,24.4 L370.2,24.0 L370.2,23.0 L370.3,21.7 L370.5,21.2 L371.0,20.0 L371.2,19.2 L371.0,19.1 L371.4,17.7 L371.1,16.9 L371.4,16.5 L371.7,16.8 L372.5,17.4 L372.6,19.4 L373.2,19.4 L372.8,20.4 L373.4,21.5 L373.4,23.2 L373.3,23.4 L373.7,24.7 L373.4,25.7 L373.5,26.1 L373.4,27.6 L374.1,28.3 L374.2,28.5 L373.8,30.0 L374.4,31.5 L374.1,31.5 L374.2,32.7 L374.6,33.3 L374.6,34.8 L374.7,35.8 L374.7,36.2 L374.6,37.1 L375.0,37.7 L374.7,39.4 L374.8,39.5 L374.8,41.0 L375.0,42.4 L375.5,43.3 L375.2,43.1 L375.1,44.5 L375.6,45.4 L375.4,46.2 L375.7,47.4 L375.8,48.6 L375.9,48.6 L376.1,49.7 L376.0,50.7 L376.1,51.4 L375.9,52.3 L375.9,54.0 L376.3,54.3 L376.2,56.0 L376.4,55.9 L376.6,57.4 L376.8,57.6 L376.6,59.4 L376.9,60.4 L376.5,60.5 L376.6,61.3 L377.2,62.7 L377.0,63.5 Z" fill="#cacaca" stroke="none"/>
<path d="M364.2,63.5 L364.7,62.4 L364.9,61.6 L364.7,61.2 L365.4,59.2 L365.4,59.1 L365.3,57.8 L365.6,56.6 L366.0,56.3 L366.6,54.8 L366.6,55.8 L367.6,56.5 L367.4,55.6 L367.9,55.2 L367.4,53.6 L367.7,53.4 L368.0,51.8 L367.7,51.8 L368.0,50.2 L368.0,50.3 L368.1,48.8 L368.2,47.6 L368.6,47.6 L368.3,45.5 L368.7,44.6 L368.2,44.7 L368.6,43.6 L368.6,42.7 L368.8,40.7 L368.5,40.4 L369.0,39.9 L368.7,38.6 L369.0,37.5 L368.9,36.2 L369.2,36.2 L369.0,34.6 L369.6,34.4 L369.2,32.2 L369.8,32.5 L369.6,30.2 L370.0,29.7 L370.0,29.1 L370.0,27.5 L370.1,26.7 L369.9,26.7 L370.2,24.8 L369.8,24.2 L370.1,23.2 L369.9,22.1 L370.4,22.1 L369.9,20.7 L370.5,19.0 L370.7,18.2 L370.6,17.9 L370.6,16.6 L370.5,16.1 L370.7,15.2 L371.0,13.9 L370.8,13.2 L371.4,11.6 L371.8,13.4 L371.8,13.5 L372.1,14.4 L372.0,15.9 L372.1,16.8 L372.4,17.2 L372.6,18.1 L372.8,20.1 L372.7,19.9 L372.7,21.4 L373.1,21.9 L373.1,24.1 L373.1,24.8 L372.8,26.0 L373.1,26.8 L373.4,26.6 L373.4,28.6 L372.9,28.7 L373.5,29.4 L373.7,30.5 L373.7,31.2 L373.6,33.3 L373.4,33.2 L373.7,34.3 L373.4,35.0 L373.6,37.1 L374.1,37.9 L373.8,38.7 L373.8,39.2 L374.3,39.9 L374.5,41.1 L374.4,42.6 L374.1,43.7 L374.6,43.7 L374.8,44.4 L375.0,45.8 L374.7,47.0 L374.8,47.1 L375.1,47.8 L375.3,49.0 L375.2,51.0 L375.3,51.5 L375.2,51.4 L375.1,52.6 L375.6,53.9 L375.7,55.6 L375.6,55.6 L376.2,56.3 L375.9,57.8 L376.1,58.8 L376.4,60.1 L376.9,60.6 L377.3,61.8 L377.3,63.3 L378.0,63.5" fill="none" stroke="#dc202c" stroke-width="1.35" stroke-linejoin="round"/>
<path d="M364.8,63.5 L364.8,62.1 L364.8,61.9 L365.6,61.2 L365.4,59.5 L365.3,59.1 L365.8,57.8 L366.4,56.8 L367.1,56.1 L366.9,57.4 L367.1,57.9 L367.7,58.6 L367.5,58.5 L367.6,57.2 L368.4,55.7 L367.9,55.4 L368.2,54.5 L368.5,52.9 L368.2,52.2 L368.1,52.1 L368.7,50.9 L368.2,50.2 L368.9,48.7 L368.9,47.7 L368.6,46.3 L368.7,45.2 L368.9,45.4 L369.2,44.6 L369.3,42.8 L369.3,42.1 L369.5,41.3 L369.2,40.5 L369.8,39.0 L369.9,37.7 L369.5,37.1 L369.9,37.2 L370.0,35.4 L370.2,34.4 L369.8,34.4 L370.2,33.1 L370.3,32.6 L370.2,31.4 L370.4,30.5 L370.3,29.4 L370.5,27.9 L370.4,27.4 L370.4,26.9 L370.5,24.7 L370.6,25.1 L370.8,23.0 L370.7,21.9 L371.3,21.9 L371.4,21.1 L371.0,20.0 L371.3,19.4 L371.7,18.6 L371.4,17.6 L372.2,16.7 L371.7,14.6 L371.9,13.3 L372.7,13.5 L373.4,12.5 L373.5,12.7 L373.2,13.4 L373.8,14.6 L373.6,15.9 L373.5,16.6 L373.8,18.3 L374.0,18.7 L374.5,19.9 L374.5,21.0 L373.9,21.6 L374.3,23.1 L374.3,23.9 L374.5,24.1 L374.8,24.9 L374.8,25.9 L374.3,26.9 L374.9,29.0 L374.4,29.2 L374.9,30.6 L374.7,31.1 L374.9,32.5 L374.9,33.6 L375.0,33.5 L375.3,34.8 L374.9,36.0 L375.0,37.1 L375.5,38.1 L375.5,38.4 L375.4,39.4 L375.8,39.8 L375.9,40.7 L375.4,42.0 L376.0,43.3 L375.7,44.8 L375.6,45.1 L375.9,46.5 L376.1,47.3 L375.9,47.7 L375.8,49.4 L376.3,50.2 L376.1,50.7 L376.6,51.8 L376.2,52.6 L376.9,53.1 L376.5,54.2 L377.0,55.9 L376.6,55.8 L376.8,57.0 L377.1,57.6 L377.1,58.6 L377.7,60.3 L377.3,61.6 L377.6,61.6 L378.6,63.1 L378.5,63.5" fill="none" stroke="#2c3a88" stroke-width="1.35" stroke-linejoin="round"/>
<path d="M431.5,63.5 L431.7,62.5 L431.5,61.8 L431.6,60.4 L431.8,59.2 L431.9,59.2 L432.2,58.0 L432.3,57.0 L432.1,56.2 L432.3,55.5 L432.7,54.2 L432.6,53.6 L432.7,52.1 L432.9,51.9 L433.1,50.8 L433.2,49.8 L433.2,48.6 L433.1,47.9 L433.1,46.8 L433.6,46.2 L433.6,44.7 L433.6,44.0 L433.8,43.0 L434.0,42.7 L433.8,41.4 L434.3,40.2 L434.2,39.9 L434.1,38.5 L434.3,37.8 L434.9,36.6 L434.5,35.7 L434.9,34.9 L435.0,33.9 L435.3,32.8 L435.2,32.4 L435.2,31.2 L435.4,30.3 L435.5,29.7 L435.8,27.6 L435.9,27.2 L435.9,26.3 L436.4,25.7 L436.5,24.3 L436.6,23.9 L437.2,22.8 L437.0,22.2 L437.3,20.6 L437.3,20.3 L437.9,19.2 L438.0,18.1 L438.1,17.6 L438.4,16.2 L438.9,15.4 L439.0,13.8 L439.7,12.9 L440.5,12.4 L440.7,13.2 L440.6,14.1 L440.9,14.9 L440.8,16.5 L441.2,16.8 L441.4,18.0 L441.5,19.1 L441.7,19.7 L442.0,21.2 L441.5,22.1 L442.1,23.0 L441.7,23.9 L442.1,23.9 L441.8,25.9 L442.3,26.0 L442.0,26.8 L442.2,28.5 L442.3,28.7 L442.7,30.4 L442.4,31.4 L442.7,32.2 L442.8,33.3 L442.9,34.2 L442.6,34.9 L442.9,35.9 L442.9,37.0 L443.0,37.2 L442.9,38.0 L443.1,38.8 L443.2,39.9 L443.2,41.2 L443.3,42.6 L443.1,43.5 L443.4,44.1 L443.6,45.4 L443.5,45.8 L443.9,46.3 L443.8,47.9 L443.5,48.8 L444.0,50.1 L443.8,51.1 L444.0,51.5 L444.3,51.8 L444.3,53.5 L444.2,54.7 L444.2,55.1 L444.4,56.4 L444.3,56.9 L444.5,58.0 L444.8,58.6 L444.9,59.7 L444.8,60.5 L444.9,62.2 L445.0,62.9 L445.0,63.5 Z" fill="#cacaca" stroke="none"/>
<path d="M415.5,63.5 L415.7,62.3 L416.1,61.8 L416.7,61.1 L416.6,60.1 L417.6,58.9 L417.3,57.6 L417.6,56.5 L418.7,56.4 L418.9,55.8 L419.6,54.8 L419.7,54.0 L420.2,53.1 L420.6,51.8 L421.0,51.3 L421.5,50.0 L421.5,49.0 L422.3,49.5 L422.6,47.8 L423.3,47.4 L423.7,45.6 L424.1,44.8 L424.3,43.8 L424.7,43.6 L424.5,42.1 L424.7,40.4 L425.5,40.1 L425.9,39.0 L425.4,38.0 L426.1,37.9 L426.7,36.3 L426.6,34.6 L427.2,33.7 L427.2,32.3 L427.5,32.2 L427.9,31.6 L428.2,30.5 L428.3,28.2 L428.8,27.5 L428.9,26.5 L428.4,26.4 L429.0,25.5 L429.1,23.4 L429.1,23.3 L429.1,22.6 L429.0,21.7 L429.4,19.2 L429.0,19.2 L429.7,17.3 L429.4,17.2 L429.6,16.5 L430.2,14.3 L430.4,14.1 L431.1,13.6 L431.4,13.0 L432.7,13.7 L433.9,12.5 L433.9,13.9 L434.5,14.9 L434.4,15.0 L434.2,17.0 L434.8,17.7 L434.7,18.2 L435.4,19.5 L435.2,19.7 L435.2,21.6 L435.3,22.3 L435.6,23.6 L435.9,23.7 L435.5,24.6 L435.9,26.1 L436.4,27.6 L436.0,28.5 L436.8,29.6 L436.8,29.7 L437.2,31.5 L437.2,32.6 L437.2,32.4 L437.6,34.4 L437.5,35.4 L438.3,35.6 L438.3,37.3 L438.4,37.5 L438.4,39.3 L439.0,39.8 L438.6,41.3 L439.3,41.4 L439.4,43.4 L439.8,43.9 L439.8,45.0 L439.8,45.5 L440.1,47.3 L440.4,48.0 L440.7,48.8 L440.7,49.0 L441.6,50.3 L441.1,51.6 L441.9,51.8 L442.1,53.0 L442.4,53.4 L442.3,55.8 L443.3,56.0 L443.4,56.6 L443.8,57.9 L444.3,59.4 L444.5,60.7 L444.4,60.3 L444.8,61.4 L445.2,62.0 L446.0,63.5" fill="none" stroke="#dc202c" stroke-width="1.35" stroke-linejoin="round"/>
<path d="M418.8,63.5 L419.4,63.3 L419.8,62.7 L420.7,60.6 L421.0,60.3 L421.2,60.4 L421.8,59.1 L422.7,59.0 L423.4,57.6 L423.9,56.6 L424.9,57.2 L425.0,55.1 L425.5,54.6 L426.4,54.5 L426.8,52.2 L427.3,52.3 L427.6,51.7 L427.7,49.5 L428.7,49.7 L429.1,47.8 L429.6,47.5 L429.4,45.8 L429.8,44.5 L430.2,43.5 L430.3,42.5 L430.8,41.3 L431.0,40.6 L430.7,40.7 L431.0,39.8 L431.6,38.8 L431.3,37.2 L431.4,36.9 L432.0,35.6 L431.8,34.3 L432.2,33.6 L432.1,32.2 L431.9,31.1 L432.4,31.0 L432.0,30.6 L432.2,28.9 L432.2,27.8 L432.8,26.9 L432.3,26.2 L432.5,25.9 L432.4,25.1 L432.5,24.0 L433.0,22.1 L432.9,21.3 L432.8,20.2 L433.0,20.5 L433.5,19.5 L432.9,17.6 L433.6,16.3 L433.6,15.6 L433.9,14.1 L433.9,13.5 L433.5,11.9 L434.4,13.8 L434.2,14.8 L435.1,15.6 L435.0,16.4 L434.9,18.3 L435.4,18.3 L435.1,19.1 L435.6,20.6 L435.5,21.1 L435.9,22.8 L436.2,23.5 L436.0,23.7 L436.5,25.1 L436.7,25.5 L437.0,26.9 L437.2,28.6 L437.1,28.3 L437.6,30.0 L437.8,30.7 L437.5,32.6 L437.9,32.7 L438.1,34.3 L438.0,35.2 L438.5,36.2 L438.4,37.4 L439.1,38.6 L438.9,39.4 L439.1,40.4 L439.0,41.6 L439.8,42.0 L439.6,43.1 L439.8,43.3 L440.3,44.7 L439.9,45.5 L440.1,47.6 L440.2,47.5 L440.9,48.6 L440.6,50.2 L441.2,51.1 L441.6,51.4 L442.0,53.3 L441.6,53.3 L442.2,54.9 L442.3,55.2 L442.9,56.3 L443.6,58.5 L443.7,59.1 L444.5,59.4 L444.9,61.5 L444.9,61.6 L445.6,62.6 L445.7,63.5" fill="none" stroke="#2c3a88" stroke-width="1.35" stroke-linejoin="round"/>
<path d="M480.5,63.5 L480.7,63.1 L481.1,61.5 L481.0,60.6 L481.4,60.5 L481.8,59.5 L482.1,58.5 L481.9,57.2 L482.6,56.8 L482.4,55.3 L482.9,54.3 L483.1,53.1 L483.3,52.7 L483.2,51.4 L484.0,51.2 L484.3,50.2 L484.4,49.5 L484.7,47.6 L484.8,46.9 L485.0,46.0 L485.2,45.9 L485.5,44.2 L485.6,43.5 L486.1,42.4 L486.0,41.9 L486.1,40.9 L486.8,39.9 L486.6,38.9 L487.0,37.6 L487.0,36.6 L487.2,36.0 L487.4,34.9 L487.5,34.3 L488.1,33.5 L488.1,32.6 L488.1,31.8 L488.4,30.6 L488.7,29.6 L488.7,28.4 L488.8,27.8 L489.1,27.0 L489.0,25.8 L489.7,24.7 L489.7,24.1 L489.7,23.8 L489.9,22.6 L490.0,20.8 L490.6,20.4 L490.3,19.4 L490.7,18.9 L490.7,17.4 L491.4,17.1 L491.1,15.7 L491.4,15.2 L492.0,14.2 L492.6,12.6 L493.6,14.3 L493.8,14.9 L494.0,16.0 L494.2,16.2 L494.4,17.0 L494.5,18.5 L494.5,19.9 L494.7,20.1 L495.0,21.6 L495.1,21.9 L495.2,22.9 L495.5,23.6 L495.5,24.8 L495.7,25.4 L496.1,27.0 L496.1,27.4 L496.1,28.1 L496.2,29.4 L496.7,29.7 L497.1,30.9 L497.2,32.4 L497.4,32.6 L497.2,34.3 L497.1,34.2 L497.6,35.7 L498.0,37.0 L497.9,38.2 L498.0,38.5 L498.3,39.3 L498.2,40.5 L498.3,41.8 L498.7,42.2 L498.5,43.0 L498.8,44.1 L499.0,45.5 L499.5,45.9 L499.3,47.0 L499.8,47.5 L499.7,49.0 L499.7,49.3 L500.4,50.8 L500.3,50.9 L500.7,52.5 L500.8,53.8 L501.1,54.0 L500.8,54.7 L501.2,56.0 L501.3,56.5 L501.7,58.0 L501.8,59.4 L502.2,59.2 L502.3,61.0 L502.4,61.8 L502.5,62.3 L503.0,63.5 Z" fill="#cacaca" stroke="none"/>
<path d="M480.2,63.5 L480.8,62.7 L481.0,61.2 L481.2,60.8 L481.4,60.1 L482.0,59.7 L482.4,57.9 L482.5,56.6 L483.4,55.6 L483.3,54.9 L484.1,55.0 L484.6,54.1 L484.7,52.0 L485.8,51.5 L486.2,50.7 L486.4,49.6 L486.8,49.9 L487.8,48.3 L488.2,47.7 L488.5,47.7 L489.1,46.8 L489.2,45.2 L489.2,43.4 L489.9,43.6 L489.7,42.6 L491.2,40.4 L491.4,40.5 L491.7,39.6 L491.8,37.8 L492.7,36.7 L493.0,36.9 L493.3,35.9 L493.3,34.0 L493.6,33.2 L494.3,32.5 L494.1,31.3 L494.3,30.8 L495.2,29.2 L495.2,29.4 L495.6,27.6 L495.7,26.6 L495.9,25.3 L496.4,24.7 L496.2,24.3 L497.2,23.1 L497.9,21.9 L497.8,22.1 L498.2,20.1 L498.0,20.1 L498.2,19.5 L498.2,18.6 L498.6,16.6 L499.1,15.3 L499.8,14.4 L500.6,13.8 L501.0,12.2 L501.3,13.1 L501.6,13.9 L501.4,15.4 L501.4,16.7 L501.6,17.5 L501.8,17.9 L501.8,18.5 L501.8,20.5 L501.9,21.1 L501.9,21.9 L502.1,22.7 L502.1,22.9 L502.2,24.1 L502.2,25.7 L502.3,26.2 L502.9,27.6 L502.9,28.6 L502.5,28.7 L502.4,30.2 L503.1,30.6 L503.0,31.9 L503.3,32.2 L503.6,33.3 L503.6,33.9 L503.3,35.9 L503.9,36.5 L503.5,36.4 L503.7,37.5 L504.0,38.7 L503.9,39.5 L504.4,40.2 L504.7,41.7 L504.7,42.2 L504.6,43.7 L504.6,43.6 L505.1,45.7 L504.7,45.5 L505.3,47.3 L504.8,47.7 L505.0,49.5 L505.2,50.7 L505.8,50.4 L505.9,51.9 L506.0,53.5 L505.8,53.4 L506.5,54.9 L506.7,56.3 L506.7,57.5 L506.8,57.9 L506.6,59.3 L507.0,60.0 L507.7,60.6 L507.8,61.6 L507.8,63.5" fill="none" stroke="#dc202c" stroke-width="1.35" stroke-linejoin="round"/>
<path d="M489.8,63.5 L490.3,63.0 L490.4,61.7 L491.3,61.0 L491.3,59.5 L491.3,58.7 L491.9,57.6 L492.3,56.6 L493.0,56.5 L493.1,55.0 L493.8,54.4 L494.5,53.4 L494.4,53.2 L494.6,51.8 L495.0,51.2 L495.5,50.2 L495.5,49.1 L496.2,47.9 L496.6,47.5 L496.4,45.8 L496.9,44.8 L497.0,44.0 L497.4,43.7 L497.9,41.9 L498.1,41.6 L498.4,40.2 L498.4,39.0 L499.4,39.2 L499.0,38.2 L499.9,37.0 L499.5,35.9 L500.1,34.5 L500.5,33.2 L501.1,33.2 L501.2,32.6 L501.5,30.5 L501.5,29.4 L501.4,29.4 L502.1,27.8 L501.6,27.4 L502.2,26.9 L501.7,25.8 L502.3,24.9 L502.0,23.1 L502.4,22.4 L502.1,21.9 L502.1,21.4 L502.1,19.3 L502.4,19.3 L502.7,18.5 L502.8,17.9 L502.5,16.3 L502.4,15.1 L502.7,13.8 L502.9,13.0 L502.8,13.3 L502.6,12.8 L502.9,13.9 L503.2,14.6 L503.4,16.7 L503.4,17.0 L503.1,18.2 L503.4,18.8 L503.3,19.8 L503.6,21.3 L503.9,21.3 L503.5,22.7 L503.7,23.5 L503.5,24.0 L503.7,25.5 L504.3,27.2 L504.3,28.2 L504.4,28.6 L504.4,28.7 L504.4,30.5 L504.2,31.4 L504.8,32.2 L504.7,32.9 L504.6,34.7 L504.4,34.6 L505.0,35.9 L504.7,37.2 L505.0,38.0 L505.1,38.8 L505.3,39.5 L505.1,40.1 L505.7,41.6 L505.3,43.0 L505.4,42.8 L505.7,44.0 L505.8,45.3 L505.7,46.3 L505.7,47.1 L506.2,47.5 L506.2,48.4 L506.4,50.6 L506.6,51.4 L506.9,51.5 L507.2,53.3 L506.7,54.5 L507.1,54.5 L507.7,56.1 L507.7,56.5 L507.8,57.3 L507.6,58.8 L507.6,60.1 L507.9,60.7 L508.5,62.1 L508.5,63.5" fill="none" stroke="#2c3a88" stroke-width="1.35" stroke-linejoin="round"/>
<path d="M298.5,124 V69.5 H519.5 V124" fill="none" stroke="#858585" stroke-width="1.2"/>
<line x1="353.5" y1="69.5" x2="353.5" y2="124" stroke="#6a6a6a" stroke-width="1.3"/>
<line x1="409" y1="69.5" x2="409" y2="124" stroke="#6a6a6a" stroke-width="1.3"/>
<line x1="464.5" y1="69.5" x2="464.5" y2="124" stroke="#6a6a6a" stroke-width="1.3"/>
<line x1="298.5" y1="124" x2="519.5" y2="124" stroke="#353545" stroke-width="1.1"/>
<path d="M300.5,124 v1.0 M303.5,124 v1.0 M306.5,124 v1.0 M309.5,124 v1.0 M312.5,124 v1.0 M315.5,124 v1.0 M318.5,124 v1.0 M321.5,124 v1.0 M324.5,124 v1.0 M327.5,124 v1.0 M330.5,124 v1.0 M333.5,124 v1.0 M336.5,124 v1.0 M339.5,124 v1.0 M342.5,124 v1.0 M345.5,124 v1.0 M348.5,124 v1.0 M351.5,124 v1.0 M354.5,124 v1.0 M357.5,124 v1.0 M360.5,124 v1.0 M363.5,124 v1.0 M366.5,124 v1.0 M369.5,124 v1.0 M372.5,124 v1.0 M375.5,124 v1.0 M378.5,124 v1.0 M381.5,124 v1.0 M384.5,124 v1.0 M387.5,124 v1.0 M390.5,124 v1.0 M393.5,124 v1.0 M396.5,124 v1.0 M399.5,124 v1.0 M402.5,124 v1.0 M405.5,124 v1.0 M408.5,124 v1.0 M411.5,124 v1.0 M414.5,124 v1.0 M417.5,124 v1.0 M420.5,124 v1.0 M423.5,124 v1.0 M426.5,124 v1.0 M429.5,124 v1.0 M432.5,124 v1.0 M435.5,124 v1.0 M438.5,124 v1.0 M441.5,124 v1.0 M444.5,124 v1.0 M447.5,124 v1.0 M450.5,124 v1.0 M453.5,124 v1.0 M456.5,124 v1.0 M459.5,124 v1.0 M462.5,124 v1.0 M465.5,124 v1.0 M468.5,124 v1.0 M471.5,124 v1.0 M474.5,124 v1.0 M477.5,124 v1.0 M480.5,124 v1.0 M483.5,124 v1.0 M486.5,124 v1.0 M489.5,124 v1.0 M492.5,124 v1.0 M495.5,124 v1.0 M498.5,124 v1.0 M501.5,124 v1.0 M504.5,124 v1.0 M507.5,124 v1.0 M510.5,124 v1.0 M513.5,124 v1.0 M516.5,124 v1.0" stroke="#333" stroke-width="0.8" fill="none"/>
<line x1="299.3" y1="70" x2="299.3" y2="123" stroke="#dc202c" stroke-width="1.0"/>
<path d="M299.5,123.5 L299.7,122.7 L299.7,121.7 L299.8,121.1 L299.3,120.0 L299.4,119.1 L299.6,118.2 L299.3,116.7 L299.6,116.5 L299.6,114.5 L300.8,114.0 L302.0,114.4 L302.5,115.0 L303.6,114.7 L304.1,115.4 L305.2,116.1 L305.8,115.1 L306.8,115.7 L307.8,115.1 L308.4,114.5 L308.9,113.1 L309.7,112.8 L310.1,112.4 L310.7,110.6 L310.9,109.9 L311.4,109.9 L312.1,108.1 L312.2,108.2 L312.6,106.7 L312.6,105.4 L313.0,104.7 L313.1,104.0 L312.8,102.7 L313.0,102.4 L313.3,100.4 L313.2,99.8 L313.5,99.1 L313.6,97.8 L313.4,97.1 L313.8,95.5 L314.0,95.7 L313.8,93.7 L314.3,92.9 L314.2,92.2 L314.3,91.3 L314.6,90.7 L315.0,88.7 L314.9,88.7 L315.2,87.8 L315.2,86.8 L315.2,85.4 L315.6,85.2 L315.8,84.1 L315.6,83.3 L316.0,82.0 L316.1,80.8 L316.3,79.9 L316.2,78.8 L316.5,78.6 L316.8,76.8 L317.0,75.7 L317.5,74.6 L317.7,74.4 L319.0,72.5 L319.2,73.3 L319.2,73.9 L319.4,75.1 L319.9,76.3 L320.2,76.9 L320.4,78.1 L320.0,78.6 L320.4,80.5 L320.4,81.3 L320.6,82.3 L320.5,82.9 L321.2,83.6 L320.9,84.3 L321.0,85.5 L321.4,86.4 L321.4,87.3 L321.6,89.0 L321.7,89.1 L321.9,91.0 L321.9,90.8 L322.2,92.7 L322.0,92.7 L322.0,94.1 L322.5,95.2 L322.7,95.6 L322.4,97.2 L322.8,97.7 L322.9,98.5 L322.6,99.6 L322.8,100.8 L323.1,101.5 L323.3,102.2 L323.4,102.8 L323.8,104.4 L324.0,104.8 L323.9,106.5 L323.9,106.7 L324.0,107.7 L324.5,108.6 L324.7,109.9 L324.7,111.0 L324.8,112.1 L325.0,112.6 L325.3,113.5 L325.4,115.0 L325.6,115.4 L325.8,117.2 L325.8,117.2 L326.2,118.9 L326.2,118.6 L326.7,120.2 L327.1,120.7 L327.5,121.4 L327.7,122.1 L327.8,123.5 Z" fill="#cacaca" stroke="none"/>
<path d="M299.5,121.5 L300.0,120.7 L301.0,120.9 L302.2,120.1 L303.4,120.1 L303.7,119.5 L305.0,120.1 L305.5,118.2 L306.8,117.9 L307.8,117.7 L308.4,116.9 L309.4,116.5 L309.6,116.3 L310.0,115.1 L310.6,114.1 L311.4,113.5 L311.7,112.1 L312.5,111.8 L313.4,110.5 L313.4,109.1 L313.9,108.5 L314.4,107.4 L315.1,107.2 L315.1,106.8 L315.4,105.3 L315.7,104.9 L316.6,103.2 L316.8,103.1 L316.8,101.4 L317.2,101.4 L317.3,100.2 L318.0,98.9 L318.2,98.6 L318.2,97.6 L318.6,96.4 L319.3,94.5 L319.5,94.8 L319.3,92.4 L319.4,92.8 L319.5,91.8 L319.8,90.6 L320.0,88.7 L320.6,87.5 L320.5,87.7 L321.0,86.6 L321.4,84.3 L321.0,84.4 L321.6,82.3 L321.6,81.7 L321.8,80.5 L321.7,80.9 L322.2,79.8 L322.4,78.3 L322.9,77.2 L323.3,76.7 L323.7,75.9 L324.8,74.0 L325.5,73.7 L327.0,74.8 L327.6,75.5 L329.3,73.8 L329.8,74.0 L330.0,74.8 L329.9,76.4 L330.3,77.4 L330.4,77.5 L330.8,79.4 L330.9,80.2 L331.1,81.8 L331.4,82.3 L331.1,82.6 L331.3,84.5 L331.4,84.6 L331.5,85.1 L332.1,85.8 L331.9,88.1 L331.8,88.5 L332.0,88.9 L332.0,89.6 L332.6,91.6 L332.8,91.5 L332.7,92.9 L332.8,94.2 L332.7,95.8 L332.6,96.4 L333.3,97.1 L333.2,98.8 L333.1,99.2 L333.6,99.8 L333.7,100.8 L333.7,102.1 L333.9,102.6 L334.0,104.0 L333.8,105.0 L334.0,106.5 L334.3,107.2 L334.4,107.8 L334.4,108.3 L335.1,109.9 L335.0,110.9 L335.4,111.5 L335.1,113.4 L335.5,114.2 L335.9,115.6 L336.1,115.3 L336.0,117.4 L336.5,117.4 L336.2,118.5 L336.3,119.7 L337.4,120.8 L337.7,121.1 L338.2,123.3 L338.8,123.5" fill="none" stroke="#dc202c" stroke-width="1.35" stroke-linejoin="round"/>
<path d="M300.0,123.5 L301.0,123.1 L302.1,122.6 L303.0,122.7 L304.2,121.4 L305.1,121.3 L306.0,120.8 L306.9,120.7 L307.9,119.9 L308.8,120.4 L309.7,119.5 L311.1,119.5 L311.8,119.2 L313.1,118.8 L313.9,119.7 L314.5,118.9 L315.9,119.0 L316.3,117.4 L317.1,117.2 L318.0,116.4 L318.4,116.2 L319.3,115.0 L319.5,114.6 L320.4,113.3 L321.0,113.3 L321.1,112.4 L321.4,110.7 L322.1,110.3 L322.3,109.7 L322.9,109.2 L322.6,108.1 L323.3,107.0 L323.9,106.0 L323.9,105.8 L324.2,104.3 L324.5,103.9 L324.8,102.8 L324.7,100.9 L325.1,100.7 L325.3,100.1 L325.0,98.4 L325.1,98.4 L325.3,96.4 L325.9,96.1 L325.6,95.3 L326.2,94.1 L325.9,93.4 L326.3,92.3 L326.9,91.6 L327.0,89.7 L326.7,89.3 L326.6,89.1 L326.9,87.1 L327.1,86.2 L327.7,85.8 L327.5,84.7 L327.3,83.6 L328.1,83.5 L328.3,81.6 L327.9,80.3 L328.4,79.8 L328.5,79.0 L328.8,77.8 L329.1,76.6 L329.7,75.8 L329.5,74.2 L330.6,73.6 L330.9,74.3 L330.9,75.9 L331.1,76.7 L331.7,77.4 L331.6,78.8 L331.9,79.6 L331.8,79.9 L332.4,80.3 L332.8,81.3 L332.8,82.4 L333.2,83.9 L333.3,84.8 L333.4,86.1 L333.3,86.3 L333.8,87.1 L333.9,88.1 L333.4,88.9 L334.1,91.1 L333.9,91.6 L333.9,92.8 L334.3,92.6 L334.0,94.4 L334.1,95.5 L334.4,95.5 L334.7,96.6 L334.8,97.3 L335.2,98.5 L335.3,99.1 L335.4,101.3 L335.2,100.8 L335.3,102.7 L335.3,103.5 L335.4,104.3 L336.0,105.2 L336.1,105.7 L336.4,106.6 L336.6,108.9 L336.8,109.1 L336.4,109.8 L336.9,110.9 L337.2,111.3 L337.1,113.4 L337.3,113.8 L337.1,114.2 L337.4,116.2 L338.0,116.2 L338.3,116.9 L338.4,119.3 L338.6,120.2 L339.1,119.8 L339.2,121.4 L339.4,122.9 L339.9,123.5" fill="none" stroke="#2c3a88" stroke-width="1.35" stroke-linejoin="round"/>
<path d="M372.0,123.5 L371.9,122.9 L372.1,121.2 L372.4,120.3 L372.5,120.2 L372.6,118.9 L372.4,118.1 L372.6,117.3 L372.7,116.4 L373.0,115.2 L373.3,114.1 L373.1,114.1 L373.3,113.1 L373.7,111.7 L373.4,110.4 L374.0,109.5 L373.8,109.1 L373.7,108.1 L373.9,107.3 L374.2,106.2 L374.1,105.3 L374.2,104.1 L374.4,104.1 L374.7,103.2 L374.5,102.3 L374.9,101.3 L375.0,100.2 L375.0,99.4 L375.2,97.9 L375.3,97.1 L375.7,96.1 L376.1,95.0 L376.1,94.2 L376.3,94.0 L376.6,92.2 L376.5,91.9 L377.1,90.4 L377.1,90.2 L377.9,88.8 L378.7,88.0 L379.0,88.4 L379.2,89.9 L379.1,90.5 L379.2,92.3 L379.7,92.6 L379.7,93.6 L379.8,94.7 L380.0,96.5 L380.5,97.2 L380.3,97.8 L380.6,99.2 L380.7,99.8 L380.5,100.7 L381.0,101.8 L380.6,102.7 L380.9,103.0 L381.4,104.5 L381.3,104.8 L381.5,106.7 L381.6,107.4 L381.7,108.4 L381.6,108.8 L381.9,110.2 L382.0,110.5 L382.1,111.7 L382.2,112.1 L382.3,113.8 L382.0,114.8 L382.0,114.9 L382.3,115.9 L382.4,117.6 L382.6,118.3 L382.5,119.3 L382.8,120.1 L383.0,121.2 L382.8,121.2 L383.0,123.0 L383.0,123.5 Z" fill="#cacaca" stroke="none"/>
<path d="M368.0,123.5 L368.1,122.8 L368.6,122.2 L368.2,120.8 L368.4,119.4 L369.2,119.0 L369.2,118.1 L369.2,116.9 L369.4,116.9 L369.8,115.2 L369.6,114.3 L370.3,113.7 L370.4,113.3 L370.2,112.3 L370.5,111.6 L370.9,110.0 L371.8,109.2 L371.5,109.2 L372.1,108.3 L372.3,106.9 L373.0,106.1 L373.3,104.7 L373.5,103.8 L373.6,102.8 L373.5,103.3 L373.8,102.2 L373.7,100.6 L373.7,100.0 L374.4,99.0 L374.1,98.7 L374.6,97.4 L374.1,96.5 L374.5,96.1 L374.6,94.7 L374.9,93.4 L374.9,93.0 L375.3,91.8 L375.0,91.6 L374.9,90.5 L375.4,89.2 L375.3,88.5 L375.7,87.6 L375.7,85.6 L375.5,84.8 L376.0,85.0 L375.5,83.7 L375.9,81.9 L375.9,82.1 L376.2,80.4 L376.3,79.5 L376.2,78.8 L376.7,78.2 L376.7,77.4 L376.5,76.9 L377.0,75.6 L376.8,73.9 L377.2,74.0 L377.5,72.4 L377.2,73.5 L377.9,73.9 L378.0,74.8 L377.8,75.5 L378.0,76.9 L378.7,78.7 L378.1,78.6 L378.8,79.4 L378.4,80.7 L378.3,81.3 L378.6,82.4 L379.1,83.2 L378.6,85.1 L378.8,85.9 L379.0,86.7 L378.9,86.7 L379.3,88.1 L379.2,89.3 L379.4,89.7 L379.2,91.5 L379.3,91.5 L379.5,92.3 L379.6,92.9 L379.7,94.6 L379.5,96.1 L379.4,95.9 L379.4,97.3 L379.9,98.4 L379.7,99.5 L379.6,99.6 L380.0,101.5 L380.1,102.0 L380.2,102.4 L380.4,103.9 L380.1,104.3 L380.6,105.2 L380.2,106.9 L380.6,107.4 L380.8,108.9 L380.5,109.0 L380.6,110.1 L381.0,111.7 L381.3,112.2 L381.2,113.2 L381.2,114.6 L381.7,115.5 L381.4,116.2 L382.0,116.9 L382.3,118.4 L382.3,119.3 L382.4,120.3 L382.2,121.0 L382.8,121.8 L382.7,121.9 L383.0,123.5" fill="none" stroke="#dc202c" stroke-width="1.35" stroke-linejoin="round"/>
<path d="M370.8,123.5 L371.1,123.1 L371.0,121.3 L371.2,120.2 L371.8,120.7 L372.1,118.9 L372.2,117.6 L372.5,117.0 L372.1,116.6 L372.4,115.2 L372.5,114.6 L373.1,114.2 L372.9,113.4 L373.2,111.6 L373.8,110.8 L373.7,110.3 L373.7,109.7 L373.9,108.8 L374.5,107.4 L374.1,106.9 L374.2,105.5 L374.7,104.0 L375.0,104.0 L375.1,102.6 L375.2,102.0 L375.1,101.5 L375.9,100.5 L376.0,98.8 L376.2,97.5 L375.9,96.7 L376.1,96.6 L376.4,95.3 L376.3,94.0 L376.5,93.2 L376.5,93.0 L376.9,91.6 L376.8,91.1 L377.0,89.5 L377.4,89.2 L377.9,88.4 L378.0,87.7 L377.9,86.5 L377.6,84.8 L377.7,84.9 L378.3,83.6 L378.1,82.3 L378.2,81.8 L379.0,80.4 L378.4,79.3 L378.8,79.5 L379.2,77.9 L379.0,76.5 L379.2,76.6 L379.7,76.0 L380.3,74.8 L380.2,74.0 L380.2,72.0 L380.7,73.5 L380.5,74.1 L380.5,76.0 L381.2,77.0 L381.5,77.1 L381.4,78.0 L381.6,79.6 L381.2,79.3 L381.3,81.1 L381.5,81.1 L381.9,83.2 L381.7,83.1 L382.0,84.7 L381.5,85.4 L381.9,87.1 L381.9,87.7 L381.7,88.1 L382.3,89.2 L381.8,90.4 L381.8,90.8 L382.1,92.3 L382.3,93.4 L382.2,93.4 L382.5,94.3 L382.3,95.8 L382.5,97.2 L382.2,98.0 L382.6,98.7 L382.3,100.3 L382.6,100.0 L382.4,102.3 L382.4,102.3 L382.9,103.9 L382.8,104.7 L382.4,104.7 L383.2,106.7 L382.5,106.5 L382.7,108.8 L382.7,109.3 L383.3,110.2 L383.4,110.5 L382.9,111.1 L383.4,112.1 L383.6,113.9 L383.1,115.0 L383.1,115.4 L383.2,116.7 L383.8,117.8 L383.2,118.6 L383.7,119.5 L383.7,120.1 L383.9,121.2 L383.5,121.0 L384.0,122.3 L384.0,123.5" fill="none" stroke="#2c3a88" stroke-width="1.35" stroke-linejoin="round"/>
<path d="M435.5,123.5 L435.6,122.0 L435.9,121.1 L436.1,121.2 L436.0,119.4 L436.3,118.6 L436.3,117.6 L436.7,117.3 L436.5,115.8 L436.8,115.8 L437.0,114.0 L436.9,113.4 L437.3,112.3 L437.3,112.4 L437.5,110.3 L437.2,109.5 L437.7,109.2 L437.8,108.1 L437.8,107.3 L438.1,106.7 L438.3,105.7 L438.5,104.8 L438.5,102.9 L438.6,102.9 L438.6,102.0 L438.6,101.2 L438.8,99.9 L438.9,98.5 L439.0,97.6 L439.0,96.8 L439.7,96.1 L439.8,95.3 L439.8,94.7 L439.9,92.9 L439.7,92.1 L439.6,91.0 L440.3,90.9 L440.0,89.8 L440.4,89.0 L440.5,87.6 L440.2,87.0 L440.5,85.9 L440.6,84.8 L441.1,83.5 L440.9,83.1 L441.0,82.5 L441.1,81.6 L441.4,80.7 L441.3,78.8 L441.5,78.7 L441.5,77.0 L442.1,76.9 L442.0,75.3 L442.4,74.7 L442.6,73.8 L442.5,74.2 L442.5,75.6 L442.8,76.0 L443.4,77.4 L443.4,78.4 L443.6,79.4 L443.5,79.6 L443.6,80.5 L443.9,81.6 L443.9,82.9 L444.5,84.1 L444.1,85.1 L444.2,85.3 L444.3,86.6 L444.6,87.6 L444.8,88.1 L445.0,89.3 L445.0,89.9 L445.1,91.1 L445.2,92.7 L445.2,93.0 L444.9,93.9 L445.5,94.8 L445.4,96.2 L445.5,96.7 L445.3,97.5 L445.9,98.8 L445.8,100.0 L445.6,100.3 L445.6,102.2 L445.7,103.2 L445.9,103.9 L445.9,104.9 L446.0,105.3 L446.3,105.9 L446.2,107.7 L446.3,108.1 L446.7,108.9 L446.4,109.8 L446.6,110.9 L446.9,112.0 L447.1,112.4 L447.1,114.3 L446.9,114.3 L447.2,115.4 L447.3,117.0 L447.2,117.3 L447.5,118.3 L447.4,119.6 L447.5,120.1 L447.7,121.5 L448.2,122.6 L448.0,123.5 Z" fill="#cacaca" stroke="none"/>
<path d="M411.2,123.5 L411.3,122.3 L412.2,121.9 L412.8,121.7 L413.2,119.6 L413.7,119.4 L413.6,118.0 L414.5,117.2 L414.4,116.5 L415.5,115.9 L415.8,114.5 L416.1,114.1 L416.4,113.7 L416.8,112.0 L417.6,111.6 L417.3,110.0 L418.0,109.8 L417.8,108.8 L418.7,108.0 L418.6,107.0 L419.2,106.3 L419.1,105.6 L420.0,104.6 L420.3,103.1 L420.6,102.0 L420.4,101.7 L421.2,100.0 L420.9,99.0 L421.3,98.2 L421.4,98.1 L421.9,97.5 L422.0,96.2 L421.9,95.6 L422.3,94.0 L422.8,93.8 L423.0,92.9 L423.3,90.9 L423.7,90.0 L424.1,89.4 L423.8,89.3 L424.1,87.6 L424.3,87.0 L424.4,85.6 L424.7,85.3 L424.9,84.1 L425.4,82.9 L425.8,82.3 L425.9,80.6 L426.3,80.7 L426.7,78.5 L427.4,78.1 L428.2,76.3 L428.3,75.5 L429.6,74.7 L430.2,74.7 L431.1,74.0 L432.2,72.7 L433.1,72.5 L433.5,74.1 L434.6,73.0 L434.9,74.3 L435.6,76.0 L435.4,76.4 L435.9,77.7 L435.9,78.1 L435.7,78.6 L436.3,80.1 L436.5,81.5 L436.8,81.3 L436.3,83.3 L436.8,83.2 L437.1,84.2 L436.9,85.3 L437.3,86.7 L437.1,87.7 L437.7,88.2 L437.9,89.7 L437.5,90.1 L438.2,91.4 L438.3,91.5 L438.7,93.4 L438.3,93.8 L439.0,94.3 L438.7,96.4 L439.2,96.2 L439.2,97.4 L439.3,98.9 L439.1,99.0 L439.3,100.0 L439.3,100.7 L439.8,102.1 L439.7,103.3 L440.5,104.2 L440.2,105.3 L440.4,105.4 L440.6,106.1 L440.9,107.2 L440.8,109.4 L441.3,110.1 L441.3,110.7 L441.6,112.1 L441.5,112.7 L441.9,112.9 L442.6,114.3 L442.9,115.6 L443.1,115.5 L443.0,117.1 L444.0,117.7 L443.9,118.3 L444.4,120.3 L444.8,120.5 L445.5,122.1 L446.6,121.9 L446.8,123.5" fill="none" stroke="#dc202c" stroke-width="1.35" stroke-linejoin="round"/>
<path d="M415.5,123.5 L415.7,123.3 L416.9,121.2 L416.9,120.8 L417.4,119.8 L418.0,118.6 L418.1,117.5 L418.7,116.6 L419.5,116.5 L419.8,115.8 L420.6,114.2 L420.9,113.0 L421.6,112.7 L421.4,111.2 L422.3,110.6 L422.7,109.5 L423.2,109.5 L423.1,108.3 L423.6,107.7 L424.5,107.0 L424.6,105.1 L425.3,105.0 L425.4,103.5 L426.2,102.4 L426.7,101.6 L426.8,100.9 L427.5,100.5 L427.6,99.7 L428.3,98.2 L428.8,97.9 L429.0,97.3 L428.8,95.5 L429.4,94.5 L429.2,93.5 L429.8,93.5 L430.0,92.6 L430.2,90.6 L430.1,90.2 L430.1,88.9 L430.3,87.0 L430.8,86.2 L431.4,86.4 L431.2,84.4 L431.2,84.0 L431.7,82.8 L432.1,82.1 L432.5,80.5 L432.2,79.9 L432.8,78.7 L433.2,77.6 L433.2,77.0 L433.8,76.4 L434.2,74.7 L435.2,74.4 L435.3,74.3 L435.6,76.2 L435.6,76.3 L436.3,78.6 L435.8,78.9 L436.3,79.7 L436.0,81.4 L436.7,81.9 L436.3,82.8 L436.5,84.7 L436.6,84.7 L437.3,85.5 L437.0,86.4 L437.2,88.0 L437.9,88.5 L437.6,90.4 L438.0,90.8 L437.9,91.6 L438.7,92.4 L438.3,94.4 L438.9,95.6 L438.8,96.7 L439.0,96.7 L439.0,98.3 L439.4,98.4 L439.1,100.7 L439.2,101.5 L439.5,101.6 L439.6,103.0 L440.3,103.5 L440.3,104.7 L439.9,106.4 L440.2,106.5 L440.5,108.5 L441.2,109.1 L440.8,110.4 L441.6,111.6 L442.1,111.7 L442.3,113.4 L442.2,113.7 L442.6,114.7 L442.8,115.3 L443.0,117.4 L443.4,118.0 L444.3,119.3 L444.3,120.6 L445.2,121.7 L445.8,122.2 L446.4,122.3 L446.8,123.5" fill="none" stroke="#2c3a88" stroke-width="1.35" stroke-linejoin="round"/>
<path d="M483.3,123.5 L484.2,122.6 L485.1,121.6 L485.7,121.1 L486.7,120.3 L487.5,120.2 L488.4,118.7 L489.2,118.8 L489.9,118.0 L490.0,117.3 L490.7,115.8 L491.0,115.3 L491.7,114.4 L491.8,112.8 L492.2,111.7 L492.5,110.7 L493.1,110.1 L493.0,109.1 L493.7,108.4 L493.9,107.7 L494.4,107.5 L494.3,106.3 L494.8,105.2 L495.0,104.6 L494.8,103.9 L495.1,102.1 L495.3,102.1 L495.5,100.8 L495.6,100.3 L495.9,98.6 L495.9,97.9 L496.4,97.4 L496.0,96.8 L496.1,95.5 L496.5,94.8 L496.7,93.1 L496.9,93.1 L497.2,91.6 L497.0,91.2 L497.5,89.7 L497.7,89.7 L497.6,88.1 L497.9,87.8 L497.7,86.2 L497.9,85.8 L498.0,84.7 L498.4,83.9 L498.3,83.3 L498.9,82.0 L499.0,80.6 L499.3,80.1 L499.4,79.6 L499.4,78.8 L499.5,76.8 L499.9,76.9 L500.4,76.1 L500.4,75.1 L500.6,73.3 L500.9,75.0 L500.9,75.7 L501.0,76.2 L501.3,77.4 L501.5,77.8 L501.4,79.0 L502.0,80.5 L501.9,80.8 L502.2,81.6 L502.4,83.4 L502.2,84.0 L502.7,85.2 L502.8,86.1 L502.6,87.2 L503.1,87.2 L503.2,88.6 L502.8,89.1 L503.3,90.8 L503.1,91.5 L503.5,93.1 L503.4,93.8 L503.4,94.0 L503.5,95.2 L503.9,96.1 L503.7,96.9 L503.7,97.7 L504.0,99.0 L504.0,99.9 L504.2,101.4 L504.3,102.2 L504.4,102.2 L504.6,103.1 L504.4,103.9 L504.8,105.9 L504.8,106.0 L504.9,106.9 L505.1,107.9 L504.9,109.4 L505.2,109.4 L505.5,111.2 L505.3,112.1 L505.8,112.8 L505.6,113.6 L505.7,115.1 L505.9,116.4 L505.7,116.7 L506.2,118.1 L506.2,119.0 L506.3,120.2 L506.6,120.5 L506.5,121.1 L507.2,122.9 L507.1,123.5 Z" fill="#cacaca" stroke="none"/>
<path d="M482.2,123.5 L482.6,122.6 L483.7,122.3 L484.4,122.3 L485.1,121.1 L486.3,120.7 L486.7,119.7 L487.4,119.6 L488.5,118.5 L488.9,118.2 L489.7,118.4 L490.6,116.9 L491.1,117.2 L491.7,116.5 L492.4,115.2 L493.1,115.6 L493.9,114.2 L494.4,113.3 L495.5,113.1 L496.2,112.6 L496.4,111.6 L496.5,110.8 L497.2,108.9 L497.8,109.1 L498.0,107.2 L498.8,107.4 L498.8,106.7 L498.6,104.3 L498.9,103.3 L499.5,103.2 L499.3,101.5 L499.5,101.2 L500.1,100.8 L500.0,99.9 L500.2,98.0 L500.2,96.8 L501.0,97.0 L500.9,94.9 L500.7,94.0 L501.0,94.0 L501.0,92.8 L501.7,91.2 L501.7,91.4 L501.9,90.0 L502.4,89.3 L502.1,88.1 L502.8,87.9 L502.9,86.5 L502.5,85.0 L502.9,84.9 L502.7,84.1 L503.5,82.7 L503.1,82.2 L503.5,81.1 L503.8,80.3 L503.8,79.7 L504.4,78.8 L504.4,77.0 L504.4,76.0 L504.9,75.9 L505.0,75.1 L505.4,74.0 L505.0,75.0 L505.1,75.7 L505.2,77.0 L505.6,77.0 L506.1,77.6 L506.3,79.5 L505.9,80.4 L506.3,81.6 L506.5,81.8 L506.9,82.2 L507.0,83.1 L506.8,84.0 L507.4,85.4 L507.4,86.1 L507.5,87.6 L507.1,88.4 L507.7,88.9 L507.7,89.9 L507.6,91.9 L508.1,92.9 L507.8,93.2 L508.2,94.5 L508.1,95.6 L508.1,96.7 L508.3,96.3 L508.6,97.3 L508.6,98.1 L508.9,99.7 L508.8,100.0 L508.8,101.3 L508.6,102.9 L508.5,103.3 L508.6,104.8 L509.3,104.5 L509.1,106.0 L509.4,107.3 L509.2,108.6 L509.3,108.5 L509.9,109.4 L509.6,111.0 L509.9,111.5 L510.5,113.0 L510.5,113.6 L510.8,114.6 L511.0,116.2 L511.2,117.4 L511.1,118.0 L511.5,118.9 L511.1,120.6 L512.0,121.1 L512.3,121.3 L512.5,123.1 L512.9,123.5" fill="none" stroke="#dc202c" stroke-width="1.35" stroke-linejoin="round"/>
<path d="M492.0,123.5 L493.2,123.4 L493.4,122.3 L494.5,121.1 L495.1,120.0 L496.1,119.8 L496.7,119.0 L497.7,118.9 L498.6,117.3 L499.1,116.6 L499.5,116.6 L499.3,115.0 L500.2,113.8 L500.2,112.7 L500.1,111.6 L500.4,110.7 L501.0,110.1 L501.5,109.3 L501.3,108.7 L501.8,107.1 L502.1,106.4 L501.8,105.4 L501.9,105.0 L501.9,104.1 L501.9,101.8 L502.4,101.2 L502.5,100.1 L502.8,100.1 L502.8,99.5 L503.2,98.3 L503.1,96.3 L502.7,96.1 L503.5,95.0 L503.3,93.6 L503.3,94.0 L503.5,93.0 L503.2,91.2 L503.4,91.2 L503.5,90.4 L503.7,89.4 L504.1,87.6 L504.5,86.7 L504.4,85.2 L504.7,85.6 L504.2,84.3 L504.5,82.4 L504.7,82.2 L505.2,81.7 L505.4,80.3 L505.3,78.7 L505.5,78.3 L505.3,78.0 L505.4,75.9 L505.5,75.0 L505.9,75.1 L505.7,73.7 L506.1,74.7 L506.1,75.6 L505.9,75.8 L506.3,76.9 L506.6,77.9 L506.8,78.8 L506.3,80.0 L506.6,80.7 L507.0,81.5 L507.0,83.3 L506.9,83.7 L507.3,84.7 L506.9,84.9 L506.9,86.2 L507.0,87.6 L507.3,88.1 L507.5,90.0 L507.4,89.8 L507.6,91.0 L508.1,92.5 L507.8,92.6 L507.7,93.5 L508.4,95.3 L507.9,96.2 L508.0,96.9 L508.2,97.2 L508.6,99.1 L508.5,99.2 L508.7,100.5 L508.8,100.9 L509.1,101.7 L508.7,103.2 L508.7,103.6 L509.2,105.9 L509.0,105.7 L509.3,106.6 L509.3,108.3 L509.5,108.5 L509.3,110.1 L510.2,111.6 L509.7,112.0 L510.1,112.5 L510.4,114.0 L510.7,114.7 L511.0,116.5 L510.8,116.5 L511.0,117.4 L511.4,119.3 L511.5,120.7 L511.4,121.2 L512.4,121.2 L512.4,122.0 L512.9,123.5" fill="none" stroke="#2c3a88" stroke-width="1.35" stroke-linejoin="round"/>
<text x="325.9" y="136.0" font-size="8.5" text-anchor="middle" fill="#2a2a2a">CD86</text>
<text x="381.3" y="136.0" font-size="8.5" text-anchor="middle" fill="#2a2a2a">CXCR5</text>
<text x="436.6" y="136.0" font-size="8.5" text-anchor="middle" fill="#2a2a2a">Ig&#954;+&#955;</text>
<text x="493.4" y="136.0" font-size="8.5" text-anchor="middle" fill="#2a2a2a">MHC-II</text>
<text x="292.5" y="174.3" font-size="8.8" text-anchor="middle" fill="#2a2a2a" transform="rotate(-90 292.5 174.3)">Human</text>
<path d="M298.5,201.5 V147.5 H462 V201.5" fill="none" stroke="#858585" stroke-width="1.2"/>
<line x1="352.5" y1="147.5" x2="352.5" y2="201.5" stroke="#6a6a6a" stroke-width="1.3"/>
<line x1="407.5" y1="147.5" x2="407.5" y2="201.5" stroke="#6a6a6a" stroke-width="1.3"/>
<line x1="298.5" y1="201.5" x2="462" y2="201.5" stroke="#353545" stroke-width="1.1"/>
<path d="M300.5,201.5 v1.0 M303.5,201.5 v1.0 M306.5,201.5 v1.0 M309.5,201.5 v1.0 M312.5,201.5 v1.0 M315.5,201.5 v1.0 M318.5,201.5 v1.0 M321.5,201.5 v1.0 M324.5,201.5 v1.0 M327.5,201.5 v1.0 M330.5,201.5 v1.0 M333.5,201.5 v1.0 M336.5,201.5 v1.0 M339.5,201.5 v1.0 M342.5,201.5 v1.0 M345.5,201.5 v1.0 M348.5,201.5 v1.0 M351.5,201.5 v1.0 M354.5,201.5 v1.0 M357.5,201.5 v1.0 M360.5,201.5 v1.0 M363.5,201.5 v1.0 M366.5,201.5 v1.0 M369.5,201.5 v1.0 M372.5,201.5 v1.0 M375.5,201.5 v1.0 M378.5,201.5 v1.0 M381.5,201.5 v1.0 M384.5,201.5 v1.0 M387.5,201.5 v1.0 M390.5,201.5 v1.0 M393.5,201.5 v1.0 M396.5,201.5 v1.0 M399.5,201.5 v1.0 M402.5,201.5 v1.0 M405.5,201.5 v1.0 M408.5,201.5 v1.0 M411.5,201.5 v1.0 M414.5,201.5 v1.0 M417.5,201.5 v1.0 M420.5,201.5 v1.0 M423.5,201.5 v1.0 M426.5,201.5 v1.0 M429.5,201.5 v1.0 M432.5,201.5 v1.0 M435.5,201.5 v1.0 M438.5,201.5 v1.0 M441.5,201.5 v1.0 M444.5,201.5 v1.0 M447.5,201.5 v1.0 M450.5,201.5 v1.0 M453.5,201.5 v1.0 M456.5,201.5 v1.0 M459.5,201.5 v1.0" stroke="#333" stroke-width="0.8" fill="none"/>
<path d="M303.2,201.0 L303.3,200.3 L303.2,199.4 L303.3,198.5 L303.3,197.9 L303.5,195.8 L303.3,195.8 L303.9,194.7 L303.5,194.1 L303.9,192.3 L303.8,192.0 L303.6,190.3 L303.9,190.4 L304.3,188.8 L304.3,188.5 L304.4,187.3 L304.5,186.5 L304.6,185.4 L304.2,184.5 L304.4,183.3 L304.4,182.6 L304.6,181.3 L304.5,180.8 L304.7,179.7 L304.8,178.5 L304.8,177.7 L305.0,177.3 L305.1,176.2 L304.8,175.8 L305.0,174.3 L305.0,173.4 L305.3,173.0 L305.2,172.0 L305.1,170.7 L305.3,169.7 L305.3,169.3 L305.6,167.7 L305.4,167.5 L305.7,166.5 L305.7,165.6 L305.6,164.0 L305.7,163.0 L306.1,162.7 L306.0,162.4 L306.1,160.6 L305.9,159.5 L306.3,159.3 L306.2,158.0 L306.2,157.2 L306.6,156.7 L306.8,155.7 L306.7,154.3 L306.7,154.0 L306.8,152.1 L306.9,152.0 L307.4,150.4 L307.5,152.0 L307.3,152.0 L307.6,153.2 L307.2,154.7 L307.5,155.0 L307.7,155.8 L307.4,156.8 L307.7,157.3 L307.7,159.1 L307.8,159.9 L308.0,160.2 L307.7,161.7 L308.2,162.2 L308.0,163.8 L308.5,163.9 L308.5,165.3 L308.4,165.5 L308.5,167.2 L308.8,167.9 L308.6,168.5 L308.8,169.6 L308.9,171.1 L308.9,172.2 L309.0,172.9 L309.2,173.6 L309.5,173.9 L309.9,175.9 L309.8,176.8 L310.1,178.1 L310.0,178.4 L310.4,179.6 L310.9,180.9 L311.0,181.4 L311.4,182.0 L311.3,183.8 L311.6,185.1 L311.7,185.5 L312.0,185.9 L312.2,187.0 L312.7,188.4 L313.0,189.2 L313.4,190.5 L313.9,191.1 L314.0,192.5 L314.2,193.9 L314.4,195.0 L315.1,195.1 L315.9,196.2 L316.3,196.5 L317.3,197.6 L317.5,198.5 L318.5,198.6 L319.1,199.7 L319.9,199.7 L321.3,200.0 L322.0,200.6 L323.0,201.0 Z" fill="#cacaca" stroke="none"/>
<path d="M303.5,201.0 L303.7,199.5 L304.2,199.2 L304.4,197.9 L304.5,197.4 L305.0,196.5 L305.2,195.3 L305.3,193.5 L306.3,193.2 L306.4,191.9 L306.6,190.6 L306.6,190.4 L307.3,189.0 L307.5,187.9 L307.8,187.1 L308.0,186.4 L308.3,185.3 L308.5,185.2 L308.6,183.8 L309.3,183.3 L309.7,182.8 L310.0,181.0 L310.2,181.1 L310.7,180.1 L310.9,178.7 L311.7,178.3 L311.8,176.3 L312.1,175.2 L312.7,175.6 L312.8,173.6 L313.3,172.5 L313.7,172.1 L313.5,171.8 L314.3,170.7 L314.9,169.4 L315.5,168.0 L316.0,167.3 L315.9,166.4 L316.5,165.1 L317.5,164.3 L317.7,163.7 L318.5,164.0 L319.6,163.2 L320.4,161.9 L321.0,161.0 L321.9,161.1 L322.5,159.6 L322.3,159.6 L322.9,158.2 L323.5,156.5 L323.6,155.9 L324.2,156.9 L324.3,158.7 L324.5,157.4 L325.1,155.6 L325.2,154.8 L325.1,153.6 L325.8,152.8 L325.8,154.0 L325.6,155.4 L326.4,156.6 L326.4,156.6 L326.9,156.3 L327.6,154.9 L327.9,153.5 L328.5,153.0 L328.5,152.4 L328.5,153.3 L328.9,154.5 L328.9,154.7 L329.6,156.0 L329.7,155.1 L330.0,153.9 L330.1,153.4 L330.9,152.3 L331.6,150.8 L331.9,151.1 L332.3,152.5 L332.5,154.3 L332.6,155.5 L332.8,154.3 L333.5,152.5 L333.2,151.9 L333.8,152.5 L333.8,154.5 L334.2,154.5 L334.3,156.1 L334.5,157.0 L335.0,157.9 L335.3,159.5 L335.1,160.6 L335.5,160.3 L336.1,162.0 L336.1,162.4 L336.5,163.5 L336.6,164.3 L336.6,165.8 L336.6,166.5 L336.5,167.7 L337.1,167.8 L337.1,169.6 L336.9,170.7 L337.6,170.4 L337.3,171.4 L337.5,172.3 L337.8,173.5 L337.8,174.8 L338.0,176.3 L338.4,176.2 L338.2,177.0 L338.5,178.1 L338.9,180.1 L339.3,180.2 L338.7,181.9 L339.1,183.1 L339.3,183.2 L339.2,185.0 L339.7,185.2 L339.8,186.7 L340.3,187.2 L339.9,188.0 L340.6,188.9 L340.6,190.1 L340.7,191.1 L340.7,192.1 L341.4,192.4 L341.3,194.6 L341.9,194.3 L341.9,196.2 L342.5,197.0 L342.3,197.7 L343.2,199.3 L343.2,200.2 L343.8,201.0" fill="none" stroke="#dc202c" stroke-width="1.35" stroke-linejoin="round"/>
<path d="M303.5,201.0 L304.3,200.1 L304.4,198.7 L304.9,198.0 L305.1,196.3 L305.5,195.6 L305.8,194.6 L305.8,194.4 L305.7,193.3 L305.9,192.6 L306.0,191.3 L306.5,189.4 L306.7,188.8 L306.9,187.2 L307.1,186.6 L307.5,185.8 L307.2,184.7 L307.7,183.9 L307.5,183.8 L307.4,182.8 L307.4,180.9 L307.3,180.5 L308.0,179.3 L307.8,179.2 L307.7,177.4 L308.0,176.9 L308.4,176.7 L308.0,175.3 L308.2,173.6 L308.4,174.0 L308.4,172.5 L308.8,170.8 L309.0,170.0 L308.7,170.0 L308.5,168.6 L308.7,167.8 L308.7,166.4 L309.0,165.4 L309.1,164.6 L309.5,163.6 L309.9,163.0 L309.6,161.8 L310.2,160.6 L310.3,159.7 L310.6,159.3 L311.1,160.5 L311.0,158.3 L311.8,158.1 L312.2,156.7 L312.2,155.5 L312.5,154.7 L312.8,153.7 L312.8,153.2 L312.9,154.5 L313.4,154.6 L313.3,156.0 L313.8,157.3 L313.9,157.9 L314.5,156.7 L314.7,156.6 L314.9,155.7 L314.5,154.5 L314.9,152.6 L315.4,152.2 L315.6,153.1 L315.4,154.5 L315.8,154.6 L316.3,153.5 L316.5,153.3 L316.4,152.2 L316.7,151.0 L318.1,150.9 L317.8,151.0 L318.7,152.2 L318.4,153.1 L318.8,154.6 L318.9,155.0 L319.1,156.0 L319.1,155.7 L320.0,154.4 L320.4,152.9 L320.5,153.6 L320.6,155.3 L320.9,156.5 L321.1,156.7 L321.2,158.0 L321.4,158.8 L322.2,160.5 L322.8,159.3 L322.8,157.5 L323.3,158.6 L323.4,159.4 L323.5,161.3 L323.8,162.5 L324.2,163.5 L324.5,163.7 L324.9,164.3 L326.0,165.4 L326.0,165.3 L326.6,163.1 L327.3,162.6 L327.1,163.3 L327.2,165.3 L327.8,166.0 L327.8,166.7 L329.1,167.8 L329.9,169.6 L330.0,168.5 L330.6,167.3 L331.5,168.3 L331.5,169.5 L331.5,170.1 L331.8,170.8 L332.5,172.4 L333.6,173.5 L333.9,172.2 L334.5,171.5 L334.6,169.7 L335.0,170.8 L334.5,171.7 L335.2,173.6 L335.3,174.2 L335.7,175.4 L335.5,175.9 L336.0,176.7 L335.7,178.0 L336.5,178.4 L336.7,180.4 L336.5,180.3 L337.0,181.7 L337.6,183.7 L337.5,184.4 L337.9,184.5 L338.4,185.5 L338.0,186.9 L338.3,188.0 L338.9,189.7 L339.1,190.5 L339.7,191.1 L339.6,191.7 L340.1,192.8 L340.5,194.0 L340.6,195.2 L341.4,195.6 L341.3,196.1 L341.6,197.0 L342.3,199.0 L343.0,200.0 L343.6,200.3 L343.8,201.0" fill="none" stroke="#2c3a88" stroke-width="1.35" stroke-linejoin="round"/>
<path d="M381.9,201.0 L382.0,199.5 L381.9,198.9 L382.1,197.7 L382.1,197.2 L382.1,196.3 L381.9,195.8 L382.3,194.7 L381.9,193.8 L382.4,193.4 L382.4,191.3 L382.5,191.2 L382.2,190.6 L382.5,189.6 L382.2,188.3 L382.3,187.1 L382.6,186.6 L382.3,185.6 L382.7,184.7 L382.8,183.8 L382.8,182.2 L382.6,181.9 L382.7,181.5 L382.7,180.0 L382.8,179.2 L382.8,178.7 L382.4,177.1 L383.0,175.9 L383.0,174.9 L382.9,174.9 L382.7,173.5 L382.7,173.0 L383.0,172.0 L382.9,171.0 L383.3,170.3 L383.3,168.8 L383.1,168.0 L383.1,167.6 L383.1,166.4 L383.5,165.9 L383.1,164.2 L383.5,164.1 L383.3,163.0 L383.5,161.8 L383.9,160.3 L383.6,159.5 L383.6,158.7 L384.0,158.1 L383.7,157.5 L384.0,155.8 L384.2,155.7 L383.9,154.9 L384.4,153.1 L383.9,153.0 L384.5,151.1 L384.5,152.8 L384.5,153.8 L384.8,154.2 L384.7,155.8 L384.5,156.4 L384.8,157.5 L384.8,157.8 L384.6,159.0 L384.6,160.3 L385.1,160.5 L385.1,161.9 L384.8,163.0 L385.2,163.3 L384.9,164.2 L385.4,165.4 L385.4,165.9 L385.1,167.1 L385.6,167.8 L385.2,169.4 L385.3,170.2 L385.3,170.6 L385.8,172.3 L385.7,172.7 L385.6,173.5 L385.8,174.9 L386.2,175.8 L386.1,176.6 L386.0,177.2 L386.2,177.9 L386.5,178.8 L386.4,179.8 L386.8,181.1 L386.6,181.7 L387.0,183.3 L386.8,183.8 L387.1,184.3 L386.9,185.0 L387.1,186.7 L387.0,187.2 L387.6,188.2 L387.3,189.6 L387.7,189.9 L387.3,191.1 L387.8,192.4 L387.8,192.6 L387.8,193.5 L387.8,194.6 L388.2,196.0 L388.3,196.4 L388.4,196.9 L388.5,198.4 L388.5,199.1 L388.7,199.5 L388.5,201.0 Z" fill="#cacaca" stroke="none"/>
<path d="M357.5,201.0 L358.1,200.6 L358.0,199.7 L358.2,198.8 L358.7,197.4 L358.8,197.1 L359.5,195.1 L360.0,194.5 L359.9,193.9 L360.3,193.7 L360.8,192.4 L360.6,190.8 L360.6,190.5 L361.3,189.5 L361.8,188.6 L361.6,187.7 L361.7,187.6 L362.2,186.1 L362.3,184.8 L362.5,184.3 L362.8,184.1 L363.1,182.1 L362.9,181.0 L363.2,181.0 L363.8,179.2 L363.8,178.6 L363.8,177.8 L363.5,176.1 L364.1,176.1 L364.0,175.5 L364.5,173.6 L364.0,173.0 L364.6,171.6 L364.3,171.1 L364.5,170.5 L365.1,168.9 L365.1,168.0 L365.1,167.0 L365.7,166.5 L365.8,165.4 L366.1,164.9 L366.1,163.6 L366.2,162.4 L366.7,162.1 L366.6,161.1 L366.5,159.7 L366.7,159.4 L366.8,157.9 L367.6,157.4 L367.7,155.7 L367.6,155.4 L367.9,154.5 L368.2,153.7 L368.6,152.9 L369.2,151.3 L369.5,149.9 L369.8,150.7 L370.1,152.0 L370.7,152.7 L370.4,154.3 L370.9,155.2 L371.0,155.0 L371.4,156.2 L371.3,156.8 L371.3,158.6 L371.9,159.5 L371.8,160.5 L372.1,160.7 L372.2,162.1 L372.5,162.4 L372.4,163.6 L372.4,164.5 L373.1,165.8 L372.9,166.9 L373.0,167.9 L373.2,167.8 L373.5,169.3 L373.7,170.8 L374.4,170.8 L374.5,172.4 L374.5,172.6 L375.0,174.6 L374.5,174.6 L374.9,175.4 L375.2,177.4 L375.0,178.3 L375.4,178.0 L376.1,179.3 L375.7,180.0 L376.0,181.0 L376.1,182.1 L376.6,183.4 L376.7,184.4 L377.3,185.6 L377.3,186.9 L377.9,187.3 L377.9,187.9 L378.0,189.6 L378.6,189.4 L379.2,191.4 L378.9,192.0 L379.4,192.6 L380.2,193.2 L380.3,194.5 L380.4,195.3 L380.9,196.7 L381.2,197.1 L381.6,197.3 L382.1,198.0 L382.9,198.8 L383.6,199.6 L383.8,201.0" fill="none" stroke="#dc202c" stroke-width="1.35" stroke-linejoin="round"/>
<path d="M358.5,201.0 L358.9,200.7 L358.8,198.8 L359.5,198.3 L359.9,197.2 L359.8,197.2 L360.0,196.4 L360.7,194.3 L360.8,194.6 L360.7,193.5 L361.4,192.5 L361.5,190.6 L362.0,189.7 L362.1,189.7 L362.0,188.7 L362.3,187.9 L362.2,187.3 L362.7,186.2 L363.0,185.3 L363.1,184.0 L363.1,183.0 L363.3,182.6 L363.9,181.1 L364.3,180.9 L364.4,178.7 L364.3,178.8 L364.4,176.8 L364.8,176.5 L364.7,176.2 L364.6,174.1 L365.2,173.6 L364.7,172.5 L365.5,172.5 L365.1,170.7 L365.7,170.5 L365.6,168.8 L365.6,169.1 L365.4,167.4 L365.6,167.4 L365.8,166.4 L366.5,165.2 L366.0,164.2 L366.5,163.0 L366.5,162.1 L367.2,160.7 L367.4,160.2 L367.2,159.1 L367.6,158.8 L367.9,158.3 L368.1,156.8 L368.6,155.5 L368.1,154.7 L368.8,153.6 L369.3,152.5 L370.1,152.3 L370.5,151.8 L370.8,151.0 L370.8,151.8 L371.1,152.4 L371.7,153.6 L371.8,153.8 L372.5,155.3 L372.8,155.2 L372.4,156.1 L373.0,157.9 L373.2,158.9 L373.3,159.4 L373.8,160.5 L373.9,161.3 L374.0,162.4 L374.2,162.4 L374.3,163.7 L374.6,164.8 L374.7,165.5 L375.0,166.4 L375.6,166.9 L375.1,168.7 L375.6,169.2 L375.9,170.0 L375.9,170.4 L376.6,172.7 L376.3,172.9 L376.6,173.3 L377.3,175.4 L377.1,175.5 L377.6,177.2 L377.7,177.6 L377.8,179.1 L378.5,180.2 L378.2,180.7 L379.1,181.9 L379.0,182.0 L379.0,183.8 L379.3,184.8 L380.1,185.3 L380.5,186.9 L380.6,186.6 L380.9,188.0 L381.0,189.7 L381.7,189.4 L381.7,190.6 L382.3,191.5 L382.5,193.0 L382.7,193.8 L383.2,195.0 L384.0,194.9 L384.1,195.4 L384.5,197.0 L385.3,197.4 L385.4,197.9 L386.4,198.8 L386.8,200.3 L387.5,201.0" fill="none" stroke="#2c3a88" stroke-width="1.35" stroke-linejoin="round"/>
<path d="M411.6,201.0 L411.9,200.1 L411.6,199.3 L411.7,198.6 L411.7,197.1 L412.0,196.9 L411.9,195.2 L412.0,194.3 L412.2,193.6 L412.5,192.7 L412.4,191.7 L412.7,191.4 L412.5,190.5 L412.5,189.7 L412.8,188.4 L412.8,187.0 L412.7,186.9 L412.9,185.7 L413.1,184.6 L413.0,183.3 L413.2,183.0 L413.4,181.2 L413.5,180.8 L413.2,179.7 L413.4,179.5 L413.7,178.0 L413.6,177.0 L413.7,176.2 L414.1,175.8 L414.2,175.0 L414.2,173.2 L414.0,172.3 L414.2,171.9 L414.6,171.0 L414.5,169.7 L414.9,169.4 L414.6,167.6 L415.1,167.0 L415.1,165.9 L415.0,165.3 L415.3,164.3 L414.9,163.3 L415.4,163.3 L415.4,162.0 L415.3,160.6 L415.3,160.6 L415.4,159.2 L415.8,157.7 L416.1,157.7 L416.2,155.8 L416.6,155.5 L416.8,154.0 L417.2,153.0 L417.0,152.2 L417.4,153.4 L417.6,154.6 L417.9,155.3 L417.6,156.6 L417.7,157.0 L418.0,158.2 L418.5,158.6 L418.4,160.4 L418.7,160.4 L418.7,162.2 L418.6,162.3 L418.8,163.4 L418.6,164.1 L418.8,165.0 L418.9,166.4 L419.0,167.2 L419.3,167.7 L419.0,169.6 L419.4,170.5 L419.4,171.0 L419.5,172.0 L419.2,172.6 L419.2,174.3 L419.4,174.7 L419.6,175.3 L419.8,177.1 L419.9,178.1 L419.6,178.2 L420.0,179.8 L419.8,180.4 L419.7,181.9 L420.0,182.9 L420.1,183.2 L420.4,184.7 L420.8,185.2 L420.8,186.2 L421.1,187.6 L421.1,188.1 L421.1,189.6 L421.6,189.9 L421.4,190.7 L422.1,191.5 L422.2,193.0 L422.3,193.9 L422.5,194.8 L422.7,196.2 L423.0,196.1 L423.6,197.6 L424.0,198.6 L424.4,198.7 L424.1,199.8 L424.7,201.0 Z" fill="#cacaca" stroke="none"/>
<path d="M412.5,201.0 L412.8,199.5 L412.7,199.5 L412.5,198.2 L413.2,197.6 L412.9,196.3 L412.9,196.0 L413.3,194.7 L413.1,193.8 L413.3,193.0 L413.3,192.2 L413.6,190.6 L413.6,190.2 L413.7,189.5 L413.4,188.4 L414.0,186.9 L414.2,185.4 L413.9,185.3 L414.3,183.9 L414.6,183.4 L414.0,181.7 L414.1,181.4 L414.4,180.1 L414.6,178.9 L415.0,179.1 L414.8,177.6 L414.8,176.9 L414.9,176.6 L415.4,175.3 L415.4,173.4 L415.0,172.9 L415.2,172.1 L416.0,171.8 L416.1,170.0 L415.8,168.8 L416.0,167.9 L416.3,167.4 L416.6,166.9 L416.7,165.6 L417.0,165.3 L417.1,164.0 L417.1,162.7 L417.0,161.9 L417.6,160.5 L418.0,160.6 L418.2,159.5 L418.1,157.5 L418.1,157.4 L418.8,155.4 L418.3,154.8 L418.7,154.1 L418.7,153.5 L419.2,154.6 L419.5,154.7 L419.8,156.7 L420.3,155.5 L420.1,154.1 L420.8,153.7 L421.1,151.4 L420.9,151.7 L421.4,152.7 L421.5,152.3 L422.3,153.6 L422.3,152.7 L422.6,152.4 L423.1,151.2 L422.9,152.0 L422.9,152.2 L423.9,152.9 L423.7,154.2 L423.8,155.3 L424.4,153.4 L425.0,152.4 L425.1,151.8 L425.0,152.4 L425.9,154.4 L425.7,155.4 L426.4,156.6 L426.4,154.7 L426.7,154.7 L427.2,153.3 L427.5,153.9 L427.5,155.5 L427.5,156.5 L427.6,157.1 L428.4,155.5 L429.0,154.9 L428.8,153.9 L429.5,154.9 L429.5,155.4 L430.5,156.4 L430.4,158.5 L431.2,159.6 L431.1,159.3 L431.7,161.1 L431.6,161.2 L431.9,162.5 L432.3,164.5 L432.1,164.1 L432.6,165.0 L432.4,166.4 L433.1,167.2 L432.8,168.3 L432.8,169.1 L433.4,169.9 L433.6,170.6 L433.2,172.2 L433.6,173.6 L433.5,174.3 L434.0,174.7 L433.8,176.0 L434.4,176.7 L434.3,178.0 L434.5,178.6 L434.4,179.6 L434.8,181.2 L435.2,181.6 L434.9,182.1 L435.3,183.8 L435.2,184.7 L435.9,185.1 L436.1,186.2 L436.1,187.7 L435.9,187.9 L436.7,188.4 L436.4,190.0 L437.0,191.1 L437.4,192.0 L437.0,191.9 L437.3,193.3 L437.6,194.3 L438.3,194.7 L438.8,195.9 L439.2,196.6 L439.3,197.7 L439.4,198.9 L439.5,199.0 L440.1,200.7 L440.6,201.0" fill="none" stroke="#dc202c" stroke-width="1.35" stroke-linejoin="round"/>
<path d="M411.6,201.0 L411.7,199.4 L411.7,199.3 L412.2,197.6 L412.3,197.1 L412.2,196.2 L412.2,196.1 L412.7,195.0 L412.7,193.8 L412.3,191.8 L413.0,191.8 L412.9,190.4 L412.8,190.3 L413.1,188.0 L413.0,187.6 L413.0,187.6 L413.7,186.4 L413.1,184.9 L413.3,184.4 L414.0,183.6 L414.1,181.6 L413.6,180.6 L414.4,180.8 L414.3,179.0 L414.6,177.9 L414.4,176.8 L415.0,176.4 L415.0,176.1 L414.9,175.4 L415.2,174.4 L415.5,172.2 L415.4,171.5 L415.2,170.7 L415.9,169.3 L415.6,168.5 L416.2,168.1 L416.1,167.3 L416.3,166.1 L416.2,165.8 L416.6,165.0 L416.4,164.1 L416.9,162.7 L416.8,161.8 L416.7,160.2 L417.1,159.3 L417.0,159.2 L417.7,158.2 L417.5,157.4 L418.3,156.3 L418.1,155.3 L418.5,154.0 L418.5,153.9 L419.2,153.1 L419.1,151.2 L419.6,149.9 L419.7,151.6 L420.1,153.0 L420.4,153.5 L420.6,154.6 L420.7,154.4 L421.4,156.4 L420.9,156.4 L421.2,158.2 L421.4,158.2 L421.9,159.2 L421.9,160.7 L422.1,161.1 L422.4,162.4 L422.7,163.7 L422.9,164.4 L422.8,166.1 L423.5,166.5 L423.2,167.0 L424.0,168.3 L423.7,169.7 L424.4,169.6 L424.3,171.2 L424.2,171.7 L424.8,173.2 L425.0,174.1 L425.0,174.2 L424.9,176.3 L425.7,177.4 L425.3,178.1 L425.6,178.5 L425.8,180.2 L426.5,181.1 L426.3,182.2 L426.4,182.6 L427.1,183.0 L427.3,183.7 L428.0,184.8 L427.9,185.8 L428.7,187.3 L429.0,188.5 L429.6,188.3 L429.9,189.1 L430.2,189.8 L430.5,190.9 L431.6,192.1 L431.4,192.3 L432.2,193.6 L432.3,193.8 L433.1,195.3 L433.2,196.4 L433.7,197.0 L434.4,197.4 L435.1,198.3 L435.1,199.4 L435.8,200.9 L436.0,201.0" fill="none" stroke="#2c3a88" stroke-width="1.35" stroke-linejoin="round"/>
<rect x="474" y="147.3" width="38.9" height="28.2" fill="#fff" stroke="#555" stroke-width="1"/>
<line x1="476.3" y1="152.7" x2="487" y2="152.7" stroke="#2c3a88" stroke-width="1.2"/>
<text x="491.8" y="155.2" font-size="7.0" text-anchor="start" fill="#2a2a2a">LZ</text>
<line x1="476.3" y1="160.8" x2="487" y2="160.8" stroke="#dc202c" stroke-width="1.2"/>
<text x="491.8" y="163.4" font-size="7.0" text-anchor="start" fill="#2a2a2a">DZ</text>
<rect x="476.3" y="167" width="10.7" height="5.3" fill="#cacaca"/>
<text x="491.8" y="172.4" font-size="7.0" text-anchor="start" fill="#2a2a2a">Naive</text>
<text x="325.8" y="214.0" font-size="8.2" text-anchor="middle" fill="#2a2a2a">CD77</text>
<text x="380.2" y="214.0" font-size="8.2" text-anchor="middle" fill="#2a2a2a">CD44</text>
<text x="434.8" y="214.0" font-size="8.2" text-anchor="middle" fill="#2a2a2a">CD27</text>
<line x1="298.3" y1="234.5" x2="298.3" y2="292.4" stroke="#222" stroke-width="1.3"/>
<line x1="298.2" y1="292.4" x2="497.5" y2="292.4" stroke="#333" stroke-width="1.0"/>
<line x1="296.2" y1="292.4" x2="298.2" y2="292.4" stroke="#333" stroke-width="0.9"/>
<text x="292.7" y="294.6" font-size="6.1" text-anchor="end" fill="#2a2a2a">10</text><text x="292.6" y="292.8" font-size="4.7" fill="#2a2a2a">1</text>
<line x1="297.2" y1="288.1193534616582" x2="298.2" y2="288.1193534616582" stroke="#333" stroke-width="0.5"/>
<line x1="297.2" y1="285.6153357578864" x2="298.2" y2="285.6153357578864" stroke="#333" stroke-width="0.5"/>
<line x1="297.2" y1="283.83870692331635" x2="298.2" y2="283.83870692331635" stroke="#333" stroke-width="0.5"/>
<line x1="297.2" y1="282.4606465383418" x2="298.2" y2="282.4606465383418" stroke="#333" stroke-width="0.5"/>
<line x1="297.2" y1="281.33468921954454" x2="298.2" y2="281.33468921954454" stroke="#333" stroke-width="0.5"/>
<line x1="297.2" y1="280.38270587099726" x2="298.2" y2="280.38270587099726" stroke="#333" stroke-width="0.5"/>
<line x1="297.2" y1="279.5580603849745" x2="298.2" y2="279.5580603849745" stroke="#333" stroke-width="0.5"/>
<line x1="297.2" y1="278.8306715157728" x2="298.2" y2="278.8306715157728" stroke="#333" stroke-width="0.5"/>
<line x1="296.2" y1="278.17999999999995" x2="298.2" y2="278.17999999999995" stroke="#333" stroke-width="0.9"/>
<text x="292.7" y="280.4" font-size="6.1" text-anchor="end" fill="#2a2a2a">10</text><text x="292.6" y="278.6" font-size="4.7" fill="#2a2a2a">2</text>
<line x1="297.2" y1="273.89935346165817" x2="298.2" y2="273.89935346165817" stroke="#333" stroke-width="0.5"/>
<line x1="297.2" y1="271.39533575788636" x2="298.2" y2="271.39533575788636" stroke="#333" stroke-width="0.5"/>
<line x1="297.2" y1="269.6187069233163" x2="298.2" y2="269.6187069233163" stroke="#333" stroke-width="0.5"/>
<line x1="297.2" y1="268.24064653834176" x2="298.2" y2="268.24064653834176" stroke="#333" stroke-width="0.5"/>
<line x1="297.2" y1="267.1146892195445" x2="298.2" y2="267.1146892195445" stroke="#333" stroke-width="0.5"/>
<line x1="297.2" y1="266.16270587099723" x2="298.2" y2="266.16270587099723" stroke="#333" stroke-width="0.5"/>
<line x1="297.2" y1="265.3380603849745" x2="298.2" y2="265.3380603849745" stroke="#333" stroke-width="0.5"/>
<line x1="297.2" y1="264.61067151577276" x2="298.2" y2="264.61067151577276" stroke="#333" stroke-width="0.5"/>
<line x1="296.2" y1="263.96" x2="298.2" y2="263.96" stroke="#333" stroke-width="0.9"/>
<text x="292.7" y="266.2" font-size="6.1" text-anchor="end" fill="#2a2a2a">10</text><text x="292.6" y="264.4" font-size="4.7" fill="#2a2a2a">3</text>
<line x1="297.2" y1="259.67935346165814" x2="298.2" y2="259.67935346165814" stroke="#333" stroke-width="0.5"/>
<line x1="297.2" y1="257.1753357578864" x2="298.2" y2="257.1753357578864" stroke="#333" stroke-width="0.5"/>
<line x1="297.2" y1="255.39870692331635" x2="298.2" y2="255.39870692331635" stroke="#333" stroke-width="0.5"/>
<line x1="297.2" y1="254.0206465383418" x2="298.2" y2="254.0206465383418" stroke="#333" stroke-width="0.5"/>
<line x1="297.2" y1="252.89468921954457" x2="298.2" y2="252.89468921954457" stroke="#333" stroke-width="0.5"/>
<line x1="297.2" y1="251.94270587099726" x2="298.2" y2="251.94270587099726" stroke="#333" stroke-width="0.5"/>
<line x1="297.2" y1="251.11806038497454" x2="298.2" y2="251.11806038497454" stroke="#333" stroke-width="0.5"/>
<line x1="297.2" y1="250.39067151577277" x2="298.2" y2="250.39067151577277" stroke="#333" stroke-width="0.5"/>
<line x1="296.2" y1="249.73999999999998" x2="298.2" y2="249.73999999999998" stroke="#333" stroke-width="0.9"/>
<text x="292.7" y="251.9" font-size="6.1" text-anchor="end" fill="#2a2a2a">10</text><text x="292.6" y="250.1" font-size="4.7" fill="#2a2a2a">4</text>
<line x1="297.2" y1="245.45935346165817" x2="298.2" y2="245.45935346165817" stroke="#333" stroke-width="0.5"/>
<line x1="297.2" y1="242.9553357578864" x2="298.2" y2="242.9553357578864" stroke="#333" stroke-width="0.5"/>
<line x1="297.2" y1="241.17870692331635" x2="298.2" y2="241.17870692331635" stroke="#333" stroke-width="0.5"/>
<line x1="297.2" y1="239.8006465383418" x2="298.2" y2="239.8006465383418" stroke="#333" stroke-width="0.5"/>
<line x1="297.2" y1="238.67468921954458" x2="298.2" y2="238.67468921954458" stroke="#333" stroke-width="0.5"/>
<line x1="297.2" y1="237.72270587099726" x2="298.2" y2="237.72270587099726" stroke="#333" stroke-width="0.5"/>
<line x1="297.2" y1="236.89806038497454" x2="298.2" y2="236.89806038497454" stroke="#333" stroke-width="0.5"/>
<line x1="297.2" y1="236.17067151577277" x2="298.2" y2="236.17067151577277" stroke="#333" stroke-width="0.5"/>
<line x1="296.2" y1="235.51999999999998" x2="298.2" y2="235.51999999999998" stroke="#333" stroke-width="0.9"/>
<text x="292.7" y="237.7" font-size="6.1" text-anchor="end" fill="#2a2a2a">10</text><text x="292.6" y="235.9" font-size="4.7" fill="#2a2a2a">5</text>
<text x="281.3" y="266.3" font-size="8.2" text-anchor="middle" fill="#2a2a2a" transform="rotate(-90 281.3 266.3)">gMFI</text>
<rect x="304.4" y="257.1753357578864" width="5.5" height="35.22466424211359" fill="#3451a8"/>
<line x1="307.15" y1="257.1753357578864" x2="307.15" y2="256.5867317749364" stroke="#222" stroke-width="0.9"/>
<line x1="305.65" y1="256.5867317749364" x2="308.65" y2="256.5867317749364" stroke="#222" stroke-width="1.0"/>
<rect x="311.5" y="264.0847652036527" width="5.5" height="28.315234796347283" fill="#ec2a25"/>
<line x1="314.25" y1="264.0847652036527" x2="314.25" y2="263.6586881672255" stroke="#222" stroke-width="0.9"/>
<line x1="312.75" y1="263.6586881672255" x2="315.75" y2="263.6586881672255" stroke="#222" stroke-width="1.0"/>
<rect x="318.59999999999997" y="271.39533575788636" width="5.5" height="21.00466424211362" fill="#c3c3c3"/>
<line x1="321.34999999999997" y1="271.39533575788636" x2="321.34999999999997" y2="269.3173950905418" stroke="#222" stroke-width="0.9"/>
<line x1="319.84999999999997" y1="269.3173950905418" x2="322.84999999999997" y2="269.3173950905418" stroke="#222" stroke-width="1.0"/>
<line x1="314.25" y1="292.4" x2="314.25" y2="294.4" stroke="#333" stroke-width="0.9"/>
<text x="315.05" y="301.3" font-size="8.0" text-anchor="end" fill="#2a2a2a" transform="rotate(-45 315.05 301.3)">CD86</text>
<rect x="333.2" y="263.4847141969756" width="5.5" height="28.915285803024403" fill="#3451a8"/>
<line x1="335.95" y1="263.4847141969756" x2="335.95" y2="263.0434073931932" stroke="#222" stroke-width="0.9"/>
<line x1="334.45" y1="263.0434073931932" x2="337.45" y2="263.0434073931932" stroke="#222" stroke-width="1.0"/>
<rect x="340.3" y="265.1107095264122" width="5.5" height="27.289290473587755" fill="#ec2a25"/>
<line x1="343.05" y1="265.1107095264122" x2="343.05" y2="264.7494564020246" stroke="#222" stroke-width="0.9"/>
<line x1="341.55" y1="264.7494564020246" x2="344.55" y2="264.7494564020246" stroke="#222" stroke-width="1.0"/>
<rect x="347.4" y="261.21376821139955" width="5.5" height="31.186231788600423" fill="#c3c3c3"/>
<line x1="350.15" y1="261.21376821139955" x2="350.15" y2="260.6830163380009" stroke="#222" stroke-width="0.9"/>
<line x1="348.65" y1="260.6830163380009" x2="351.65" y2="260.6830163380009" stroke="#222" stroke-width="1.0"/>
<line x1="343.05" y1="292.4" x2="343.05" y2="294.4" stroke="#333" stroke-width="0.9"/>
<text x="343.85" y="301.3" font-size="8.0" text-anchor="end" fill="#2a2a2a" transform="rotate(-45 343.85 301.3)">CXCR5</text>
<rect x="362.0" y="264.7494564020246" width="5.5" height="27.6505435979754" fill="#3451a8"/>
<line x1="364.75" y1="264.7494564020246" x2="364.75" y2="263.0968767101716" stroke="#222" stroke-width="0.9"/>
<line x1="363.25" y1="263.0968767101716" x2="366.25" y2="263.0968767101716" stroke="#222" stroke-width="1.0"/>
<rect x="369.1" y="268.49274960451913" width="5.5" height="23.907250395480844" fill="#ec2a25"/>
<line x1="371.85" y1="268.49274960451913" x2="371.85" y2="267.1146892195446" stroke="#222" stroke-width="0.9"/>
<line x1="370.35" y1="267.1146892195446" x2="373.35" y2="267.1146892195446" stroke="#222" stroke-width="1.0"/>
<rect x="376.2" y="254.95207856165825" width="5.5" height="37.44792143834172" fill="#c3c3c3"/>
<line x1="378.95" y1="254.95207856165825" x2="378.95" y2="254.67131805411458" stroke="#222" stroke-width="0.9"/>
<line x1="377.45" y1="254.67131805411458" x2="380.45" y2="254.67131805411458" stroke="#222" stroke-width="1.0"/>
<line x1="371.85" y1="292.4" x2="371.85" y2="294.4" stroke="#333" stroke-width="0.9"/>
<text x="372.65000000000003" y="301.3" font-size="8.0" text-anchor="end" fill="#2a2a2a" transform="rotate(-45 372.65000000000003 301.3)">Ig&#954;+&#955;</text>
<rect x="390.79999999999995" y="246.28399894768086" width="5.5" height="46.11600105231912" fill="#3451a8"/>
<line x1="393.54999999999995" y1="246.28399894768086" x2="393.54999999999995" y2="244.8707494787082" stroke="#222" stroke-width="0.9"/>
<line x1="392.04999999999995" y1="244.8707494787082" x2="395.04999999999995" y2="244.8707494787082" stroke="#222" stroke-width="1.0"/>
<rect x="397.9" y="248.87687671017162" width="5.5" height="43.52312328982836" fill="#ec2a25"/>
<line x1="400.65" y1="248.87687671017162" x2="400.65" y2="248.2154742316073" stroke="#222" stroke-width="0.9"/>
<line x1="399.15" y1="248.2154742316073" x2="402.15" y2="248.2154742316073" stroke="#222" stroke-width="1.0"/>
<rect x="404.99999999999994" y="251.51662883456999" width="5.5" height="40.88337116542999" fill="#c3c3c3"/>
<line x1="407.74999999999994" y1="251.51662883456999" x2="407.74999999999994" y2="251.19574276184989" stroke="#222" stroke-width="0.9"/>
<line x1="406.24999999999994" y1="251.19574276184989" x2="409.24999999999994" y2="251.19574276184989" stroke="#222" stroke-width="1.0"/>
<line x1="400.65" y1="292.4" x2="400.65" y2="294.4" stroke="#333" stroke-width="0.9"/>
<text x="401.45" y="301.3" font-size="8.0" text-anchor="end" fill="#2a2a2a" transform="rotate(-45 401.45 301.3)">MHC-II</text>
<rect x="419.59999999999997" y="265.49441474974134" width="5.5" height="26.90558525025864" fill="#3451a8"/>
<line x1="422.34999999999997" y1="265.49441474974134" x2="422.34999999999997" y2="263.96" stroke="#222" stroke-width="0.9"/>
<line x1="420.84999999999997" y1="263.96" x2="423.84999999999997" y2="263.96" stroke="#222" stroke-width="1.0"/>
<rect x="426.7" y="261.13509622350807" width="5.5" height="31.264903776491906" fill="#ec2a25"/>
<line x1="429.45" y1="261.13509622350807" x2="429.45" y2="259.67935346165814" stroke="#222" stroke-width="0.9"/>
<line x1="427.95" y1="259.67935346165814" x2="430.95" y2="259.67935346165814" stroke="#222" stroke-width="1.0"/>
<rect x="433.79999999999995" y="278.17999999999995" width="5.5" height="14.220000000000027" fill="#c3c3c3"/>
<line x1="436.54999999999995" y1="278.17999999999995" x2="436.54999999999995" y2="277.48011971763" stroke="#222" stroke-width="0.9"/>
<line x1="435.04999999999995" y1="277.48011971763" x2="438.04999999999995" y2="277.48011971763" stroke="#222" stroke-width="1.0"/>
<line x1="429.45" y1="292.4" x2="429.45" y2="294.4" stroke="#333" stroke-width="0.9"/>
<text x="430.25" y="301.3" font-size="8.0" text-anchor="end" fill="#2a2a2a" transform="rotate(-45 430.25 301.3)">CD77</text>
<rect x="448.4" y="269.4662135574453" width="5.5" height="22.933786442554663" fill="#3451a8"/>
<line x1="451.15" y1="269.4662135574453" x2="451.15" y2="269.1720785616583" stroke="#222" stroke-width="0.9"/>
<line x1="449.65" y1="269.1720785616583" x2="452.65" y2="269.1720785616583" stroke="#222" stroke-width="1.0"/>
<rect x="455.5" y="270.99676730829094" width="5.5" height="21.403232691709036" fill="#ec2a25"/>
<line x1="458.25" y1="270.99676730829094" x2="458.25" y2="270.6223697996591" stroke="#222" stroke-width="0.9"/>
<line x1="456.75" y1="270.6223697996591" x2="459.75" y2="270.6223697996591" stroke="#222" stroke-width="1.0"/>
<rect x="462.59999999999997" y="255.39870692331635" width="5.5" height="37.00129307668362" fill="#c3c3c3"/>
<line x1="465.34999999999997" y1="255.39870692331635" x2="465.34999999999997" y2="254.95207856165825" stroke="#222" stroke-width="0.9"/>
<line x1="463.84999999999997" y1="254.95207856165825" x2="466.84999999999997" y2="254.95207856165825" stroke="#222" stroke-width="1.0"/>
<line x1="458.25" y1="292.4" x2="458.25" y2="294.4" stroke="#333" stroke-width="0.9"/>
<text x="459.05" y="301.3" font-size="8.0" text-anchor="end" fill="#2a2a2a" transform="rotate(-45 459.05 301.3)">CD44</text>
<rect x="477.2" y="275.3943069427407" width="5.5" height="17.005693057259293" fill="#3451a8"/>
<line x1="479.95" y1="275.3943069427407" x2="479.95" y2="274.9761020138582" stroke="#222" stroke-width="0.9"/>
<line x1="478.45" y1="274.9761020138582" x2="481.45" y2="274.9761020138582" stroke="#222" stroke-width="1.0"/>
<rect x="484.3" y="271.71210609067896" width="5.5" height="20.68789390932102" fill="#ec2a25"/>
<line x1="487.05" y1="271.71210609067896" x2="487.05" y2="271.2932562844887" stroke="#222" stroke-width="0.9"/>
<line x1="485.55" y1="271.2932562844887" x2="488.55" y2="271.2932562844887" stroke="#222" stroke-width="1.0"/>
<rect x="491.4" y="281.33468921954454" width="5.5" height="11.065310780455434" fill="#c3c3c3"/>
<line x1="494.15" y1="281.33468921954454" x2="494.15" y2="280.9361207699491" stroke="#222" stroke-width="0.9"/>
<line x1="492.65" y1="280.9361207699491" x2="495.65" y2="280.9361207699491" stroke="#222" stroke-width="1.0"/>
<line x1="487.05" y1="292.4" x2="487.05" y2="294.4" stroke="#333" stroke-width="0.9"/>
<text x="487.85" y="301.3" font-size="8.0" text-anchor="end" fill="#2a2a2a" transform="rotate(-45 487.85 301.3)">CD27</text>
<rect x="474.8" y="227.5" width="11.6" height="6.3" fill="#3451a8"/>
<text x="491.6" y="233.7" font-size="8.2" text-anchor="start" fill="#2a2a2a">LZ</text>
<rect x="474.8" y="238.8" width="11.6" height="6.3" fill="#ec2a25"/>
<text x="491.6" y="245.0" font-size="8.2" text-anchor="start" fill="#2a2a2a">DZ</text>
<rect x="474.8" y="250" width="11.6" height="6.0" fill="#c3c3c3"/>
<text x="491.6" y="256.2" font-size="8.2" text-anchor="start" fill="#2a2a2a">Naive</text>
</svg></body></html>
